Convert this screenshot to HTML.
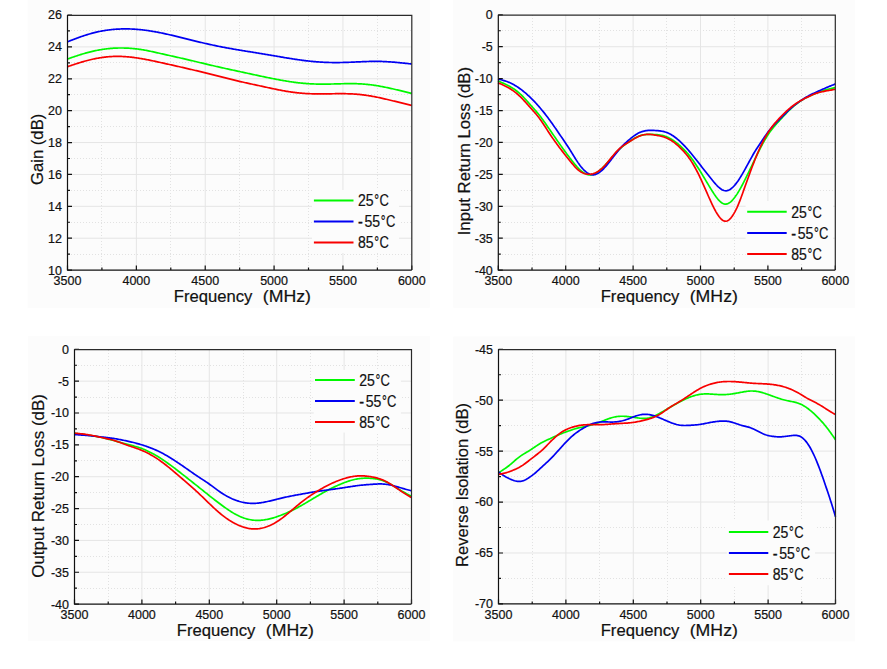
<!DOCTYPE html>
<html><head><meta charset="utf-8"><style>
html,body{margin:0;padding:0;background:#fff;}
body{width:887px;height:669px;overflow:hidden;}
svg{display:block;}
text{font-family:"Liberation Sans",sans-serif;fill:#111;stroke:#111;stroke-width:0.2px;}
.tk{font-size:12.5px;}
.ti{font-size:17px;}
.lg{font-size:16px;}
.deg{font-size:13px;}
</style></head><body>
<svg width="887" height="669" viewBox="0 0 887 669">
<rect x="27.7" y="0" width="402.1" height="307.9" fill="#fcfcfc"/>
<rect x="453.2" y="0" width="401.8" height="307.9" fill="#fcfcfc"/>
<rect x="28" y="336" width="401.8" height="305.0" fill="#fcfcfc"/>
<rect x="453.2" y="336.5" width="401.8" height="304.9" fill="#fcfcfc"/>
<path d="M101.50,16V270.1 M170.50,16V270.1 M239.50,16V270.1 M308.50,16V270.1 M377.50,16V270.1 M68,30.50H411.8 M68,62.50H411.8 M68,94.50H411.8 M68,126.50H411.8 M68,158.50H411.8 M68,190.50H411.8 M68,222.50H411.8 M68,254.50H411.8" stroke="#e2e2e2" stroke-width="1" stroke-dasharray="1 2" fill="none"/>
<path d="M136.36,15.0V270.1 M205.22,15.0V270.1 M274.08,15.0V270.1 M342.94,15.0V270.1 M67.5,46.89H411.8 M67.5,78.78H411.8 M67.5,110.66H411.8 M67.5,142.55H411.8 M67.5,174.44H411.8 M67.5,206.33H411.8 M67.5,238.21H411.8" stroke="#e5e5e5" stroke-width="1" fill="none"/>
<rect x="312" y="190" width="87" height="63" fill="#fcfcfc"/>
<path d="M67.4,59.03 L68.4,58.68 L69.4,58.33 L70.4,57.98 L71.4,57.63 L72.4,57.29 L73.4,56.94 L74.4,56.61 L75.4,56.27 L76.4,55.94 L77.4,55.61 L78.4,55.28 L79.4,54.96 L80.4,54.65 L81.4,54.34 L82.4,54.04 L83.4,53.74 L84.4,53.44 L85.4,53.16 L86.4,52.88 L87.4,52.61 L88.4,52.34 L89.4,52.08 L90.4,51.83 L91.4,51.58 L92.4,51.35 L93.4,51.12 L94.4,50.89 L95.4,50.68 L96.4,50.47 L97.4,50.27 L98.4,50.08 L99.4,49.90 L100.4,49.73 L101.4,49.56 L102.4,49.40 L103.4,49.25 L104.4,49.11 L105.4,48.98 L106.4,48.86 L107.4,48.74 L108.4,48.63 L109.4,48.53 L110.4,48.44 L111.4,48.36 L112.4,48.29 L113.4,48.22 L114.4,48.16 L115.4,48.11 L116.4,48.07 L117.4,48.04 L118.4,48.01 L119.4,48.00 L120.4,47.99 L121.4,47.99 L122.4,47.99 L123.4,48.01 L124.4,48.03 L125.4,48.06 L126.4,48.10 L127.4,48.15 L128.4,48.20 L129.4,48.26 L130.4,48.33 L131.4,48.41 L132.4,48.49 L133.4,48.59 L134.4,48.69 L135.4,48.79 L136.4,48.91 L137.4,49.03 L138.4,49.16 L139.4,49.30 L140.4,49.44 L141.4,49.60 L142.4,49.76 L143.4,49.92 L144.4,50.10 L145.4,50.27 L146.4,50.46 L147.4,50.65 L148.4,50.85 L149.4,51.05 L150.4,51.26 L151.4,51.47 L152.4,51.68 L153.4,51.90 L154.4,52.12 L155.4,52.34 L156.4,52.57 L157.4,52.80 L158.4,53.02 L159.4,53.25 L160.4,53.48 L161.4,53.71 L162.4,53.93 L163.4,54.16 L164.4,54.39 L165.4,54.61 L166.4,54.84 L167.4,55.06 L168.4,55.29 L169.4,55.51 L170.4,55.74 L171.4,55.96 L172.4,56.19 L173.4,56.41 L174.4,56.63 L175.4,56.86 L176.4,57.08 L177.4,57.31 L178.4,57.54 L179.4,57.76 L180.4,57.99 L181.4,58.22 L182.4,58.45 L183.4,58.68 L184.4,58.91 L185.4,59.14 L186.4,59.38 L187.4,59.61 L188.4,59.85 L189.4,60.08 L190.4,60.32 L191.4,60.56 L192.4,60.79 L193.4,61.03 L194.4,61.27 L195.4,61.51 L196.4,61.75 L197.4,61.99 L198.4,62.23 L199.4,62.47 L200.4,62.71 L201.4,62.95 L202.4,63.18 L203.4,63.42 L204.4,63.66 L205.4,63.90 L206.4,64.14 L207.4,64.37 L208.4,64.61 L209.4,64.84 L210.4,65.07 L211.4,65.31 L212.4,65.54 L213.4,65.77 L214.4,66.00 L215.4,66.23 L216.4,66.46 L217.4,66.69 L218.4,66.92 L219.4,67.14 L220.4,67.37 L221.4,67.59 L222.4,67.82 L223.4,68.04 L224.4,68.26 L225.4,68.49 L226.4,68.71 L227.4,68.93 L228.4,69.15 L229.4,69.37 L230.4,69.58 L231.4,69.80 L232.4,70.02 L233.4,70.24 L234.4,70.45 L235.4,70.67 L236.4,70.89 L237.4,71.10 L238.4,71.32 L239.4,71.53 L240.4,71.75 L241.4,71.96 L242.4,72.18 L243.4,72.40 L244.4,72.61 L245.4,72.83 L246.4,73.04 L247.4,73.26 L248.4,73.47 L249.4,73.69 L250.4,73.90 L251.4,74.12 L252.4,74.34 L253.4,74.55 L254.4,74.77 L255.4,74.98 L256.4,75.20 L257.4,75.41 L258.4,75.62 L259.4,75.84 L260.4,76.05 L261.4,76.26 L262.4,76.47 L263.4,76.68 L264.4,76.89 L265.4,77.10 L266.4,77.30 L267.4,77.51 L268.4,77.72 L269.4,77.92 L270.4,78.12 L271.4,78.32 L272.4,78.52 L273.4,78.72 L274.4,78.92 L275.4,79.11 L276.4,79.31 L277.4,79.50 L278.4,79.69 L279.4,79.87 L280.4,80.06 L281.4,80.24 L282.4,80.42 L283.4,80.59 L284.4,80.76 L285.4,80.93 L286.4,81.10 L287.4,81.26 L288.4,81.42 L289.4,81.58 L290.4,81.73 L291.4,81.88 L292.4,82.02 L293.4,82.16 L294.4,82.30 L295.4,82.43 L296.4,82.55 L297.4,82.68 L298.4,82.79 L299.4,82.91 L300.4,83.01 L301.4,83.11 L302.4,83.21 L303.4,83.30 L304.4,83.39 L305.4,83.47 L306.4,83.55 L307.4,83.62 L308.4,83.69 L309.4,83.75 L310.4,83.81 L311.4,83.86 L312.4,83.90 L313.4,83.95 L314.4,83.98 L315.4,84.01 L316.4,84.04 L317.4,84.07 L318.4,84.08 L319.4,84.10 L320.4,84.11 L321.4,84.12 L322.4,84.12 L323.4,84.12 L324.4,84.12 L325.4,84.11 L326.4,84.10 L327.4,84.09 L328.4,84.08 L329.4,84.06 L330.4,84.04 L331.4,84.02 L332.4,84.00 L333.4,83.98 L334.4,83.95 L335.4,83.93 L336.4,83.90 L337.4,83.87 L338.4,83.85 L339.4,83.82 L340.4,83.80 L341.4,83.77 L342.4,83.75 L343.4,83.73 L344.4,83.70 L345.4,83.69 L346.4,83.67 L347.4,83.66 L348.4,83.65 L349.4,83.64 L350.4,83.64 L351.4,83.64 L352.4,83.65 L353.4,83.66 L354.4,83.67 L355.4,83.69 L356.4,83.72 L357.4,83.75 L358.4,83.79 L359.4,83.84 L360.4,83.89 L361.4,83.95 L362.4,84.01 L363.4,84.08 L364.4,84.16 L365.4,84.24 L366.4,84.34 L367.4,84.43 L368.4,84.54 L369.4,84.65 L370.4,84.77 L371.4,84.90 L372.4,85.03 L373.4,85.17 L374.4,85.31 L375.4,85.46 L376.4,85.62 L377.4,85.78 L378.4,85.95 L379.4,86.12 L380.4,86.30 L381.4,86.49 L382.4,86.68 L383.4,86.87 L384.4,87.07 L385.4,87.27 L386.4,87.48 L387.4,87.69 L388.4,87.90 L389.4,88.12 L390.4,88.34 L391.4,88.56 L392.4,88.79 L393.4,89.01 L394.4,89.24 L395.4,89.47 L396.4,89.71 L397.4,89.94 L398.4,90.18 L399.4,90.41 L400.4,90.65 L401.4,90.89 L402.4,91.13 L403.4,91.37 L404.4,91.62 L405.4,91.86 L406.4,92.10 L407.4,92.34 L408.4,92.59 L409.4,92.83 L410.4,93.08 L411.4,93.32 L411.8,93.42" stroke="#00f800" stroke-width="1.7" fill="none" stroke-linejoin="round"/>
<path d="M67.4,41.82 L68.4,41.43 L69.4,41.04 L70.4,40.65 L71.4,40.26 L72.4,39.87 L73.4,39.49 L74.4,39.11 L75.4,38.73 L76.4,38.36 L77.4,37.99 L78.4,37.62 L79.4,37.26 L80.4,36.91 L81.4,36.56 L82.4,36.21 L83.4,35.87 L84.4,35.54 L85.4,35.22 L86.4,34.90 L87.4,34.59 L88.4,34.28 L89.4,33.99 L90.4,33.70 L91.4,33.42 L92.4,33.15 L93.4,32.89 L94.4,32.63 L95.4,32.38 L96.4,32.15 L97.4,31.92 L98.4,31.70 L99.4,31.48 L100.4,31.28 L101.4,31.09 L102.4,30.90 L103.4,30.73 L104.4,30.56 L105.4,30.40 L106.4,30.25 L107.4,30.11 L108.4,29.97 L109.4,29.85 L110.4,29.73 L111.4,29.62 L112.4,29.52 L113.4,29.43 L114.4,29.34 L115.4,29.26 L116.4,29.19 L117.4,29.13 L118.4,29.07 L119.4,29.03 L120.4,28.99 L121.4,28.95 L122.4,28.93 L123.4,28.91 L124.4,28.90 L125.4,28.89 L126.4,28.90 L127.4,28.91 L128.4,28.93 L129.4,28.95 L130.4,28.98 L131.4,29.02 L132.4,29.07 L133.4,29.12 L134.4,29.18 L135.4,29.25 L136.4,29.32 L137.4,29.40 L138.4,29.48 L139.4,29.57 L140.4,29.67 L141.4,29.78 L142.4,29.89 L143.4,30.00 L144.4,30.12 L145.4,30.25 L146.4,30.38 L147.4,30.52 L148.4,30.67 L149.4,30.82 L150.4,30.97 L151.4,31.13 L152.4,31.30 L153.4,31.47 L154.4,31.64 L155.4,31.82 L156.4,32.00 L157.4,32.19 L158.4,32.38 L159.4,32.58 L160.4,32.78 L161.4,32.98 L162.4,33.19 L163.4,33.40 L164.4,33.61 L165.4,33.83 L166.4,34.05 L167.4,34.28 L168.4,34.50 L169.4,34.73 L170.4,34.96 L171.4,35.20 L172.4,35.44 L173.4,35.68 L174.4,35.92 L175.4,36.16 L176.4,36.40 L177.4,36.65 L178.4,36.90 L179.4,37.14 L180.4,37.39 L181.4,37.64 L182.4,37.89 L183.4,38.14 L184.4,38.39 L185.4,38.64 L186.4,38.89 L187.4,39.14 L188.4,39.39 L189.4,39.64 L190.4,39.89 L191.4,40.13 L192.4,40.38 L193.4,40.63 L194.4,40.87 L195.4,41.11 L196.4,41.35 L197.4,41.59 L198.4,41.83 L199.4,42.07 L200.4,42.31 L201.4,42.54 L202.4,42.77 L203.4,43.00 L204.4,43.23 L205.4,43.46 L206.4,43.69 L207.4,43.91 L208.4,44.14 L209.4,44.36 L210.4,44.58 L211.4,44.79 L212.4,45.01 L213.4,45.22 L214.4,45.43 L215.4,45.64 L216.4,45.85 L217.4,46.05 L218.4,46.26 L219.4,46.46 L220.4,46.66 L221.4,46.85 L222.4,47.05 L223.4,47.24 L224.4,47.43 L225.4,47.62 L226.4,47.81 L227.4,47.99 L228.4,48.17 L229.4,48.36 L230.4,48.53 L231.4,48.71 L232.4,48.89 L233.4,49.06 L234.4,49.23 L235.4,49.41 L236.4,49.58 L237.4,49.75 L238.4,49.91 L239.4,50.08 L240.4,50.25 L241.4,50.41 L242.4,50.57 L243.4,50.74 L244.4,50.90 L245.4,51.06 L246.4,51.23 L247.4,51.39 L248.4,51.55 L249.4,51.71 L250.4,51.87 L251.4,52.03 L252.4,52.20 L253.4,52.36 L254.4,52.52 L255.4,52.68 L256.4,52.84 L257.4,53.01 L258.4,53.17 L259.4,53.33 L260.4,53.50 L261.4,53.66 L262.4,53.83 L263.4,53.99 L264.4,54.16 L265.4,54.32 L266.4,54.49 L267.4,54.66 L268.4,54.83 L269.4,55.00 L270.4,55.17 L271.4,55.34 L272.4,55.51 L273.4,55.68 L274.4,55.85 L275.4,56.02 L276.4,56.19 L277.4,56.36 L278.4,56.53 L279.4,56.70 L280.4,56.87 L281.4,57.04 L282.4,57.21 L283.4,57.38 L284.4,57.55 L285.4,57.72 L286.4,57.88 L287.4,58.05 L288.4,58.21 L289.4,58.37 L290.4,58.53 L291.4,58.69 L292.4,58.85 L293.4,59.01 L294.4,59.16 L295.4,59.31 L296.4,59.46 L297.4,59.60 L298.4,59.75 L299.4,59.89 L300.4,60.03 L301.4,60.16 L302.4,60.30 L303.4,60.43 L304.4,60.55 L305.4,60.68 L306.4,60.80 L307.4,60.91 L308.4,61.03 L309.4,61.14 L310.4,61.24 L311.4,61.34 L312.4,61.44 L313.4,61.54 L314.4,61.63 L315.4,61.71 L316.4,61.79 L317.4,61.87 L318.4,61.95 L319.4,62.02 L320.4,62.08 L321.4,62.14 L322.4,62.20 L323.4,62.25 L324.4,62.30 L325.4,62.34 L326.4,62.38 L327.4,62.42 L328.4,62.45 L329.4,62.48 L330.4,62.50 L331.4,62.52 L332.4,62.53 L333.4,62.54 L334.4,62.55 L335.4,62.55 L336.4,62.55 L337.4,62.55 L338.4,62.54 L339.4,62.53 L340.4,62.52 L341.4,62.50 L342.4,62.48 L343.4,62.46 L344.4,62.43 L345.4,62.41 L346.4,62.37 L347.4,62.34 L348.4,62.30 L349.4,62.27 L350.4,62.23 L351.4,62.19 L352.4,62.14 L353.4,62.10 L354.4,62.05 L355.4,62.01 L356.4,61.96 L357.4,61.92 L358.4,61.87 L359.4,61.83 L360.4,61.78 L361.4,61.74 L362.4,61.70 L363.4,61.66 L364.4,61.62 L365.4,61.58 L366.4,61.55 L367.4,61.52 L368.4,61.49 L369.4,61.46 L370.4,61.44 L371.4,61.42 L372.4,61.41 L373.4,61.40 L374.4,61.39 L375.4,61.39 L376.4,61.39 L377.4,61.40 L378.4,61.41 L379.4,61.42 L380.4,61.45 L381.4,61.47 L382.4,61.50 L383.4,61.54 L384.4,61.58 L385.4,61.63 L386.4,61.68 L387.4,61.73 L388.4,61.79 L389.4,61.85 L390.4,61.92 L391.4,61.99 L392.4,62.06 L393.4,62.14 L394.4,62.22 L395.4,62.31 L396.4,62.40 L397.4,62.49 L398.4,62.58 L399.4,62.68 L400.4,62.78 L401.4,62.88 L402.4,62.99 L403.4,63.09 L404.4,63.20 L405.4,63.31 L406.4,63.41 L407.4,63.52 L408.4,63.64 L409.4,63.75 L410.4,63.86 L411.4,63.97 L411.8,64.02" stroke="#0000f2" stroke-width="1.7" fill="none" stroke-linejoin="round"/>
<path d="M67.4,66.70 L68.4,66.37 L69.4,66.03 L70.4,65.70 L71.4,65.36 L72.4,65.03 L73.4,64.70 L74.4,64.37 L75.4,64.05 L76.4,63.72 L77.4,63.40 L78.4,63.09 L79.4,62.78 L80.4,62.47 L81.4,62.17 L82.4,61.87 L83.4,61.58 L84.4,61.30 L85.4,61.02 L86.4,60.75 L87.4,60.48 L88.4,60.22 L89.4,59.97 L90.4,59.72 L91.4,59.49 L92.4,59.26 L93.4,59.03 L94.4,58.82 L95.4,58.61 L96.4,58.42 L97.4,58.23 L98.4,58.05 L99.4,57.88 L100.4,57.72 L101.4,57.56 L102.4,57.42 L103.4,57.29 L104.4,57.16 L105.4,57.05 L106.4,56.94 L107.4,56.84 L108.4,56.75 L109.4,56.68 L110.4,56.61 L111.4,56.55 L112.4,56.50 L113.4,56.46 L114.4,56.42 L115.4,56.40 L116.4,56.39 L117.4,56.38 L118.4,56.39 L119.4,56.40 L120.4,56.42 L121.4,56.46 L122.4,56.50 L123.4,56.54 L124.4,56.60 L125.4,56.66 L126.4,56.74 L127.4,56.82 L128.4,56.91 L129.4,57.00 L130.4,57.10 L131.4,57.21 L132.4,57.33 L133.4,57.45 L134.4,57.58 L135.4,57.72 L136.4,57.86 L137.4,58.01 L138.4,58.16 L139.4,58.32 L140.4,58.48 L141.4,58.65 L142.4,58.82 L143.4,59.00 L144.4,59.18 L145.4,59.37 L146.4,59.56 L147.4,59.75 L148.4,59.95 L149.4,60.14 L150.4,60.35 L151.4,60.55 L152.4,60.76 L153.4,60.97 L154.4,61.18 L155.4,61.40 L156.4,61.61 L157.4,61.83 L158.4,62.05 L159.4,62.27 L160.4,62.49 L161.4,62.71 L162.4,62.93 L163.4,63.15 L164.4,63.37 L165.4,63.60 L166.4,63.82 L167.4,64.05 L168.4,64.27 L169.4,64.50 L170.4,64.72 L171.4,64.95 L172.4,65.18 L173.4,65.40 L174.4,65.63 L175.4,65.86 L176.4,66.08 L177.4,66.31 L178.4,66.54 L179.4,66.77 L180.4,67.00 L181.4,67.22 L182.4,67.45 L183.4,67.68 L184.4,67.91 L185.4,68.14 L186.4,68.37 L187.4,68.60 L188.4,68.83 L189.4,69.06 L190.4,69.30 L191.4,69.53 L192.4,69.76 L193.4,70.00 L194.4,70.23 L195.4,70.47 L196.4,70.70 L197.4,70.94 L198.4,71.18 L199.4,71.41 L200.4,71.65 L201.4,71.89 L202.4,72.14 L203.4,72.38 L204.4,72.62 L205.4,72.87 L206.4,73.11 L207.4,73.36 L208.4,73.61 L209.4,73.86 L210.4,74.11 L211.4,74.36 L212.4,74.61 L213.4,74.86 L214.4,75.12 L215.4,75.37 L216.4,75.63 L217.4,75.88 L218.4,76.14 L219.4,76.39 L220.4,76.65 L221.4,76.91 L222.4,77.16 L223.4,77.42 L224.4,77.67 L225.4,77.93 L226.4,78.18 L227.4,78.44 L228.4,78.69 L229.4,78.94 L230.4,79.19 L231.4,79.43 L232.4,79.68 L233.4,79.92 L234.4,80.16 L235.4,80.40 L236.4,80.64 L237.4,80.88 L238.4,81.11 L239.4,81.35 L240.4,81.58 L241.4,81.81 L242.4,82.04 L243.4,82.26 L244.4,82.49 L245.4,82.71 L246.4,82.93 L247.4,83.15 L248.4,83.37 L249.4,83.59 L250.4,83.81 L251.4,84.02 L252.4,84.24 L253.4,84.46 L254.4,84.67 L255.4,84.89 L256.4,85.11 L257.4,85.32 L258.4,85.54 L259.4,85.76 L260.4,85.98 L261.4,86.19 L262.4,86.41 L263.4,86.63 L264.4,86.85 L265.4,87.07 L266.4,87.28 L267.4,87.50 L268.4,87.72 L269.4,87.93 L270.4,88.15 L271.4,88.36 L272.4,88.58 L273.4,88.79 L274.4,89.00 L275.4,89.20 L276.4,89.41 L277.4,89.61 L278.4,89.81 L279.4,90.01 L280.4,90.20 L281.4,90.40 L282.4,90.58 L283.4,90.77 L284.4,90.94 L285.4,91.12 L286.4,91.29 L287.4,91.45 L288.4,91.62 L289.4,91.77 L290.4,91.92 L291.4,92.06 L292.4,92.20 L293.4,92.33 L294.4,92.46 L295.4,92.58 L296.4,92.70 L297.4,92.81 L298.4,92.91 L299.4,93.01 L300.4,93.10 L301.4,93.19 L302.4,93.27 L303.4,93.35 L304.4,93.42 L305.4,93.48 L306.4,93.54 L307.4,93.60 L308.4,93.65 L309.4,93.69 L310.4,93.73 L311.4,93.76 L312.4,93.79 L313.4,93.82 L314.4,93.84 L315.4,93.86 L316.4,93.87 L317.4,93.88 L318.4,93.89 L319.4,93.89 L320.4,93.89 L321.4,93.89 L322.4,93.88 L323.4,93.88 L324.4,93.87 L325.4,93.86 L326.4,93.85 L327.4,93.84 L328.4,93.82 L329.4,93.81 L330.4,93.79 L331.4,93.78 L332.4,93.76 L333.4,93.75 L334.4,93.74 L335.4,93.72 L336.4,93.71 L337.4,93.70 L338.4,93.69 L339.4,93.69 L340.4,93.68 L341.4,93.68 L342.4,93.69 L343.4,93.69 L344.4,93.70 L345.4,93.71 L346.4,93.73 L347.4,93.75 L348.4,93.78 L349.4,93.81 L350.4,93.85 L351.4,93.89 L352.4,93.94 L353.4,94.00 L354.4,94.06 L355.4,94.13 L356.4,94.20 L357.4,94.28 L358.4,94.37 L359.4,94.46 L360.4,94.56 L361.4,94.67 L362.4,94.79 L363.4,94.91 L364.4,95.04 L365.4,95.18 L366.4,95.32 L367.4,95.47 L368.4,95.62 L369.4,95.79 L370.4,95.95 L371.4,96.13 L372.4,96.31 L373.4,96.49 L374.4,96.68 L375.4,96.88 L376.4,97.08 L377.4,97.28 L378.4,97.49 L379.4,97.70 L380.4,97.92 L381.4,98.14 L382.4,98.36 L383.4,98.59 L384.4,98.82 L385.4,99.05 L386.4,99.28 L387.4,99.52 L388.4,99.75 L389.4,99.99 L390.4,100.23 L391.4,100.47 L392.4,100.72 L393.4,100.96 L394.4,101.20 L395.4,101.44 L396.4,101.69 L397.4,101.93 L398.4,102.18 L399.4,102.42 L400.4,102.67 L401.4,102.91 L402.4,103.16 L403.4,103.41 L404.4,103.65 L405.4,103.90 L406.4,104.15 L407.4,104.39 L408.4,104.64 L409.4,104.89 L410.4,105.13 L411.4,105.38 L411.8,105.48" stroke="#f80000" stroke-width="1.7" fill="none" stroke-linejoin="round"/>
<path d="M67.50,270.1V265.6 M101.93,270.1V267.6 M136.36,270.1V265.6 M170.79,270.1V267.6 M205.22,270.1V265.6 M239.65,270.1V267.6 M274.08,270.1V265.6 M308.51,270.1V267.6 M342.94,270.1V265.6 M377.37,270.1V267.6 M411.80,270.1V265.6 M67.5,15.00H72.0 M67.5,30.94H70.0 M67.5,46.89H72.0 M67.5,62.83H70.0 M67.5,78.78H72.0 M67.5,94.72H70.0 M67.5,110.66H72.0 M67.5,126.61H70.0 M67.5,142.55H72.0 M67.5,158.49H70.0 M67.5,174.44H72.0 M67.5,190.38H70.0 M67.5,206.33H72.0 M67.5,222.27H70.0 M67.5,238.21H72.0 M67.5,254.16H70.0 M67.5,270.10H72.0" stroke="#111" stroke-width="1.2" fill="none"/>
<path d="M67.5,15.30H411.8V270.1" stroke="#2a2a2a" stroke-width="1.2" fill="none"/>
<path d="M67.5,15.0V270.1H411.8" stroke="#111" stroke-width="1.2" fill="none"/>
<text x="67.50" y="285.30" class="tk" text-anchor="middle">3500</text>
<text x="136.36" y="285.30" class="tk" text-anchor="middle">4000</text>
<text x="205.22" y="285.30" class="tk" text-anchor="middle">4500</text>
<text x="274.08" y="285.30" class="tk" text-anchor="middle">5000</text>
<text x="342.94" y="285.30" class="tk" text-anchor="middle">5500</text>
<text x="411.80" y="285.30" class="tk" text-anchor="middle">6000</text>
<text x="62.00" y="19.40" class="tk" text-anchor="end">26</text>
<text x="62.00" y="51.29" class="tk" text-anchor="end">24</text>
<text x="62.00" y="83.18" class="tk" text-anchor="end">22</text>
<text x="62.00" y="115.06" class="tk" text-anchor="end">20</text>
<text x="62.00" y="146.95" class="tk" text-anchor="end">18</text>
<text x="62.00" y="178.84" class="tk" text-anchor="end">16</text>
<text x="62.00" y="210.73" class="tk" text-anchor="end">14</text>
<text x="62.00" y="242.61" class="tk" text-anchor="end">12</text>
<text x="62.00" y="274.50" class="tk" text-anchor="end">10</text>
<text x="173.80" y="301.8" class="ti" textLength="78.6" lengthAdjust="spacingAndGlyphs">Frequency</text>
<text x="262.80" y="301.8" class="ti" textLength="48.2" lengthAdjust="spacingAndGlyphs">(MHz)</text>
<text x="0" y="0" class="ti" textLength="71.30" lengthAdjust="spacingAndGlyphs" transform="translate(43.0,185.00) rotate(-90)">Gain (dB)</text>
<path d="M313.9,200.4H353.5" stroke="#00f800" stroke-width="2"/>
<text x="358.00" y="206.20" class="lg" textLength="15.6" lengthAdjust="spacingAndGlyphs">25</text>
<text x="374.30" y="206.20" class="lg" textLength="4.8" lengthAdjust="spacingAndGlyphs">°</text>
<text x="379.40" y="206.20" class="lg" textLength="9.4" lengthAdjust="spacingAndGlyphs">C</text>
<path d="M313.9,221.5H353.5" stroke="#0000f2" stroke-width="2"/>
<text x="358.00" y="227.30" class="lg" textLength="4.8" lengthAdjust="spacingAndGlyphs" style="stroke:#111;stroke-width:0.35px">-</text>
<text x="364.50" y="227.30" class="lg" textLength="15.6" lengthAdjust="spacingAndGlyphs">55</text>
<text x="380.80" y="227.30" class="lg" textLength="4.8" lengthAdjust="spacingAndGlyphs">°</text>
<text x="385.90" y="227.30" class="lg" textLength="9.4" lengthAdjust="spacingAndGlyphs">C</text>
<path d="M313.9,242.6H353.5" stroke="#f80000" stroke-width="2"/>
<text x="358.00" y="248.40" class="lg" textLength="15.6" lengthAdjust="spacingAndGlyphs">85</text>
<text x="374.30" y="248.40" class="lg" textLength="4.8" lengthAdjust="spacingAndGlyphs">°</text>
<text x="379.40" y="248.40" class="lg" textLength="9.4" lengthAdjust="spacingAndGlyphs">C</text>
<path d="M532.50,15V270.1 M599.50,15V270.1 M666.50,15V270.1 M734.50,15V270.1 M801.50,15V270.1 M499,30.50H835.3 M499,62.50H835.3 M499,94.50H835.3 M499,126.50H835.3 M499,158.50H835.3 M499,190.50H835.3 M499,222.50H835.3 M499,254.50H835.3" stroke="#e2e2e2" stroke-width="1" stroke-dasharray="1 2" fill="none"/>
<path d="M565.70,14.8V270.1 M633.10,14.8V270.1 M700.50,14.8V270.1 M767.90,14.8V270.1 M498.3,46.71H835.3 M498.3,78.62H835.3 M498.3,110.54H835.3 M498.3,142.45H835.3 M498.3,174.36H835.3 M498.3,206.28H835.3 M498.3,238.19H835.3" stroke="#e5e5e5" stroke-width="1" fill="none"/>
<rect x="745.6" y="201" width="87.39999999999998" height="63" fill="#fcfcfc"/>
<path d="M498.0,80.98 L499.0,81.40 L500.0,81.82 L501.0,82.25 L502.0,82.68 L503.0,83.12 L504.0,83.56 L505.0,84.02 L506.0,84.50 L507.0,84.99 L508.0,85.50 L509.0,86.03 L510.0,86.58 L511.0,87.15 L512.0,87.75 L513.0,88.38 L514.0,89.04 L515.0,89.73 L516.0,90.46 L517.0,91.23 L518.0,92.03 L519.0,92.88 L520.0,93.77 L521.0,94.70 L522.0,95.68 L523.0,96.69 L524.0,97.74 L525.0,98.81 L526.0,99.90 L527.0,101.01 L528.0,102.14 L529.0,103.27 L530.0,104.40 L531.0,105.54 L532.0,106.67 L533.0,107.78 L534.0,108.90 L535.0,110.03 L536.0,111.16 L537.0,112.33 L538.0,113.52 L539.0,114.76 L540.0,116.03 L541.0,117.34 L542.0,118.68 L543.0,120.05 L544.0,121.44 L545.0,122.85 L546.0,124.27 L547.0,125.71 L548.0,127.16 L549.0,128.61 L550.0,130.07 L551.0,131.53 L552.0,132.98 L553.0,134.43 L554.0,135.88 L555.0,137.32 L556.0,138.76 L557.0,140.20 L558.0,141.62 L559.0,143.05 L560.0,144.46 L561.0,145.87 L562.0,147.28 L563.0,148.67 L564.0,150.05 L565.0,151.43 L566.0,152.80 L567.0,154.15 L568.0,155.49 L569.0,156.83 L570.0,158.15 L571.0,159.45 L572.0,160.74 L573.0,162.01 L574.0,163.24 L575.0,164.45 L576.0,165.61 L577.0,166.73 L578.0,167.80 L579.0,168.82 L580.0,169.78 L581.0,170.67 L582.0,171.49 L583.0,172.24 L584.0,172.90 L585.0,173.48 L586.0,173.96 L587.0,174.35 L588.0,174.64 L589.0,174.81 L590.0,174.88 L591.0,174.82 L592.0,174.66 L593.0,174.38 L594.0,174.01 L595.0,173.55 L596.0,173.01 L597.0,172.38 L598.0,171.69 L599.0,170.93 L600.0,170.12 L601.0,169.25 L602.0,168.34 L603.0,167.38 L604.0,166.38 L605.0,165.35 L606.0,164.28 L607.0,163.18 L608.0,162.06 L609.0,160.92 L610.0,159.75 L611.0,158.57 L612.0,157.39 L613.0,156.21 L614.0,155.03 L615.0,153.88 L616.0,152.76 L617.0,151.67 L618.0,150.62 L619.0,149.63 L620.0,148.69 L621.0,147.79 L622.0,146.94 L623.0,146.12 L624.0,145.33 L625.0,144.58 L626.0,143.85 L627.0,143.14 L628.0,142.45 L629.0,141.77 L630.0,141.11 L631.0,140.45 L632.0,139.80 L633.0,139.17 L634.0,138.56 L635.0,137.98 L636.0,137.43 L637.0,136.93 L638.0,136.46 L639.0,136.05 L640.0,135.69 L641.0,135.38 L642.0,135.12 L643.0,134.90 L644.0,134.73 L645.0,134.59 L646.0,134.49 L647.0,134.42 L648.0,134.38 L649.0,134.36 L650.0,134.36 L651.0,134.37 L652.0,134.40 L653.0,134.44 L654.0,134.50 L655.0,134.56 L656.0,134.63 L657.0,134.71 L658.0,134.81 L659.0,134.92 L660.0,135.06 L661.0,135.23 L662.0,135.42 L663.0,135.65 L664.0,135.91 L665.0,136.21 L666.0,136.56 L667.0,136.95 L668.0,137.39 L669.0,137.88 L670.0,138.41 L671.0,138.98 L672.0,139.59 L673.0,140.24 L674.0,140.93 L675.0,141.66 L676.0,142.42 L677.0,143.21 L678.0,144.03 L679.0,144.88 L680.0,145.76 L681.0,146.67 L682.0,147.60 L683.0,148.57 L684.0,149.56 L685.0,150.59 L686.0,151.66 L687.0,152.77 L688.0,153.92 L689.0,155.11 L690.0,156.35 L691.0,157.63 L692.0,158.96 L693.0,160.33 L694.0,161.74 L695.0,163.19 L696.0,164.68 L697.0,166.19 L698.0,167.74 L699.0,169.31 L700.0,170.91 L701.0,172.53 L702.0,174.17 L703.0,175.83 L704.0,177.49 L705.0,179.16 L706.0,180.83 L707.0,182.50 L708.0,184.17 L709.0,185.83 L710.0,187.48 L711.0,189.10 L712.0,190.71 L713.0,192.30 L714.0,193.84 L715.0,195.33 L716.0,196.75 L717.0,198.08 L718.0,199.31 L719.0,200.43 L720.0,201.42 L721.0,202.27 L722.0,202.97 L723.0,203.51 L724.0,203.89 L725.0,204.10 L726.0,204.12 L727.0,203.96 L728.0,203.61 L729.0,203.09 L730.0,202.41 L731.0,201.59 L732.0,200.62 L733.0,199.53 L734.0,198.33 L735.0,197.01 L736.0,195.60 L737.0,194.10 L738.0,192.52 L739.0,190.86 L740.0,189.13 L741.0,187.35 L742.0,185.51 L743.0,183.62 L744.0,181.69 L745.0,179.72 L746.0,177.71 L747.0,175.68 L748.0,173.62 L749.0,171.55 L750.0,169.45 L751.0,167.35 L752.0,165.25 L753.0,163.14 L754.0,161.04 L755.0,158.95 L756.0,156.88 L757.0,154.82 L758.0,152.79 L759.0,150.79 L760.0,148.82 L761.0,146.89 L762.0,145.01 L763.0,143.16 L764.0,141.37 L765.0,139.63 L766.0,137.95 L767.0,136.32 L768.0,134.75 L769.0,133.24 L770.0,131.80 L771.0,130.43 L772.0,129.12 L773.0,127.87 L774.0,126.66 L775.0,125.49 L776.0,124.36 L777.0,123.25 L778.0,122.15 L779.0,121.07 L780.0,119.99 L781.0,118.91 L782.0,117.83 L783.0,116.75 L784.0,115.68 L785.0,114.62 L786.0,113.57 L787.0,112.53 L788.0,111.51 L789.0,110.52 L790.0,109.55 L791.0,108.61 L792.0,107.70 L793.0,106.81 L794.0,105.95 L795.0,105.12 L796.0,104.32 L797.0,103.54 L798.0,102.79 L799.0,102.07 L800.0,101.37 L801.0,100.71 L802.0,100.07 L803.0,99.46 L804.0,98.87 L805.0,98.31 L806.0,97.77 L807.0,97.25 L808.0,96.75 L809.0,96.27 L810.0,95.81 L811.0,95.37 L812.0,94.93 L813.0,94.51 L814.0,94.10 L815.0,93.70 L816.0,93.30 L817.0,92.91 L818.0,92.52 L819.0,92.14 L820.0,91.77 L821.0,91.40 L822.0,91.06 L823.0,90.72 L824.0,90.40 L825.0,90.10 L826.0,89.82 L827.0,89.55 L828.0,89.30 L829.0,89.05 L830.0,88.82 L831.0,88.59 L832.0,88.38 L833.0,88.16 L834.0,87.95 L835.0,87.75 L835.3,87.68" stroke="#00f800" stroke-width="1.7" fill="none" stroke-linejoin="round"/>
<path d="M498.0,79.07 L499.0,79.30 L500.0,79.54 L501.0,79.79 L502.0,80.04 L503.0,80.31 L504.0,80.59 L505.0,80.89 L506.0,81.21 L507.0,81.56 L508.0,81.94 L509.0,82.34 L510.0,82.78 L511.0,83.24 L512.0,83.74 L513.0,84.26 L514.0,84.82 L515.0,85.40 L516.0,86.00 L517.0,86.64 L518.0,87.30 L519.0,87.99 L520.0,88.70 L521.0,89.43 L522.0,90.19 L523.0,90.98 L524.0,91.79 L525.0,92.62 L526.0,93.48 L527.0,94.36 L528.0,95.26 L529.0,96.19 L530.0,97.13 L531.0,98.10 L532.0,99.10 L533.0,100.11 L534.0,101.15 L535.0,102.20 L536.0,103.28 L537.0,104.38 L538.0,105.50 L539.0,106.64 L540.0,107.79 L541.0,108.97 L542.0,110.17 L543.0,111.40 L544.0,112.64 L545.0,113.90 L546.0,115.18 L547.0,116.49 L548.0,117.81 L549.0,119.16 L550.0,120.53 L551.0,121.92 L552.0,123.33 L553.0,124.75 L554.0,126.19 L555.0,127.63 L556.0,129.09 L557.0,130.55 L558.0,132.01 L559.0,133.47 L560.0,134.93 L561.0,136.39 L562.0,137.84 L563.0,139.30 L564.0,140.76 L565.0,142.23 L566.0,143.71 L567.0,145.21 L568.0,146.74 L569.0,148.29 L570.0,149.86 L571.0,151.47 L572.0,153.10 L573.0,154.74 L574.0,156.37 L575.0,157.99 L576.0,159.58 L577.0,161.12 L578.0,162.62 L579.0,164.04 L580.0,165.40 L581.0,166.68 L582.0,167.89 L583.0,169.01 L584.0,170.05 L585.0,170.99 L586.0,171.85 L587.0,172.60 L588.0,173.26 L589.0,173.80 L590.0,174.24 L591.0,174.57 L592.0,174.77 L593.0,174.84 L594.0,174.78 L595.0,174.58 L596.0,174.27 L597.0,173.84 L598.0,173.30 L599.0,172.67 L600.0,171.95 L601.0,171.14 L602.0,170.26 L603.0,169.31 L604.0,168.29 L605.0,167.21 L606.0,166.09 L607.0,164.91 L608.0,163.70 L609.0,162.45 L610.0,161.18 L611.0,159.89 L612.0,158.58 L613.0,157.26 L614.0,155.95 L615.0,154.65 L616.0,153.37 L617.0,152.12 L618.0,150.90 L619.0,149.73 L620.0,148.59 L621.0,147.49 L622.0,146.43 L623.0,145.41 L624.0,144.42 L625.0,143.46 L626.0,142.52 L627.0,141.62 L628.0,140.73 L629.0,139.87 L630.0,139.03 L631.0,138.21 L632.0,137.41 L633.0,136.64 L634.0,135.90 L635.0,135.19 L636.0,134.53 L637.0,133.91 L638.0,133.34 L639.0,132.83 L640.0,132.38 L641.0,131.98 L642.0,131.63 L643.0,131.33 L644.0,131.08 L645.0,130.87 L646.0,130.69 L647.0,130.56 L648.0,130.46 L649.0,130.39 L650.0,130.35 L651.0,130.34 L652.0,130.35 L653.0,130.39 L654.0,130.44 L655.0,130.50 L656.0,130.57 L657.0,130.64 L658.0,130.72 L659.0,130.82 L660.0,130.94 L661.0,131.08 L662.0,131.25 L663.0,131.45 L664.0,131.68 L665.0,131.96 L666.0,132.28 L667.0,132.64 L668.0,133.05 L669.0,133.52 L670.0,134.02 L671.0,134.58 L672.0,135.17 L673.0,135.81 L674.0,136.50 L675.0,137.22 L676.0,137.98 L677.0,138.78 L678.0,139.62 L679.0,140.49 L680.0,141.40 L681.0,142.35 L682.0,143.32 L683.0,144.33 L684.0,145.36 L685.0,146.43 L686.0,147.52 L687.0,148.63 L688.0,149.77 L689.0,150.92 L690.0,152.10 L691.0,153.30 L692.0,154.51 L693.0,155.73 L694.0,156.97 L695.0,158.23 L696.0,159.49 L697.0,160.76 L698.0,162.03 L699.0,163.31 L700.0,164.59 L701.0,165.88 L702.0,167.17 L703.0,168.45 L704.0,169.73 L705.0,171.01 L706.0,172.29 L707.0,173.56 L708.0,174.82 L709.0,176.08 L710.0,177.33 L711.0,178.56 L712.0,179.79 L713.0,181.00 L714.0,182.19 L715.0,183.35 L716.0,184.47 L717.0,185.53 L718.0,186.53 L719.0,187.45 L720.0,188.29 L721.0,189.03 L722.0,189.66 L723.0,190.16 L724.0,190.53 L725.0,190.74 L726.0,190.80 L727.0,190.69 L728.0,190.42 L729.0,190.00 L730.0,189.45 L731.0,188.76 L732.0,187.95 L733.0,187.02 L734.0,185.99 L735.0,184.85 L736.0,183.63 L737.0,182.31 L738.0,180.91 L739.0,179.43 L740.0,177.88 L741.0,176.27 L742.0,174.60 L743.0,172.88 L744.0,171.12 L745.0,169.33 L746.0,167.51 L747.0,165.67 L748.0,163.83 L749.0,161.99 L750.0,160.16 L751.0,158.34 L752.0,156.54 L753.0,154.78 L754.0,153.05 L755.0,151.38 L756.0,149.76 L757.0,148.19 L758.0,146.67 L759.0,145.17 L760.0,143.68 L761.0,142.19 L762.0,140.70 L763.0,139.22 L764.0,137.75 L765.0,136.30 L766.0,134.87 L767.0,133.47 L768.0,132.11 L769.0,130.79 L770.0,129.52 L771.0,128.30 L772.0,127.14 L773.0,126.01 L774.0,124.92 L775.0,123.86 L776.0,122.83 L777.0,121.81 L778.0,120.80 L779.0,119.80 L780.0,118.80 L781.0,117.80 L782.0,116.79 L783.0,115.79 L784.0,114.78 L785.0,113.79 L786.0,112.80 L787.0,111.83 L788.0,110.88 L789.0,109.95 L790.0,109.04 L791.0,108.16 L792.0,107.30 L793.0,106.46 L794.0,105.65 L795.0,104.85 L796.0,104.08 L797.0,103.32 L798.0,102.59 L799.0,101.87 L800.0,101.17 L801.0,100.49 L802.0,99.82 L803.0,99.18 L804.0,98.54 L805.0,97.93 L806.0,97.33 L807.0,96.75 L808.0,96.19 L809.0,95.65 L810.0,95.12 L811.0,94.61 L812.0,94.11 L813.0,93.63 L814.0,93.15 L815.0,92.69 L816.0,92.22 L817.0,91.77 L818.0,91.31 L819.0,90.86 L820.0,90.41 L821.0,89.97 L822.0,89.53 L823.0,89.09 L824.0,88.66 L825.0,88.24 L826.0,87.81 L827.0,87.39 L828.0,86.98 L829.0,86.56 L830.0,86.15 L831.0,85.74 L832.0,85.33 L833.0,84.93 L834.0,84.52 L835.0,84.12 L835.3,84.00" stroke="#0000f2" stroke-width="1.7" fill="none" stroke-linejoin="round"/>
<path d="M498.0,82.77 L499.0,83.20 L500.0,83.64 L501.0,84.08 L502.0,84.52 L503.0,84.98 L504.0,85.45 L505.0,85.94 L506.0,86.44 L507.0,86.97 L508.0,87.51 L509.0,88.09 L510.0,88.69 L511.0,89.32 L512.0,89.98 L513.0,90.67 L514.0,91.39 L515.0,92.15 L516.0,92.94 L517.0,93.76 L518.0,94.62 L519.0,95.52 L520.0,96.45 L521.0,97.43 L522.0,98.44 L523.0,99.48 L524.0,100.55 L525.0,101.64 L526.0,102.74 L527.0,103.87 L528.0,105.00 L529.0,106.13 L530.0,107.27 L531.0,108.41 L532.0,109.53 L533.0,110.65 L534.0,111.77 L535.0,112.90 L536.0,114.06 L537.0,115.25 L538.0,116.50 L539.0,117.80 L540.0,119.16 L541.0,120.57 L542.0,122.02 L543.0,123.50 L544.0,125.01 L545.0,126.54 L546.0,128.08 L547.0,129.62 L548.0,131.17 L549.0,132.70 L550.0,134.22 L551.0,135.71 L552.0,137.18 L553.0,138.63 L554.0,140.06 L555.0,141.47 L556.0,142.86 L557.0,144.23 L558.0,145.58 L559.0,146.92 L560.0,148.25 L561.0,149.56 L562.0,150.86 L563.0,152.14 L564.0,153.42 L565.0,154.69 L566.0,155.95 L567.0,157.20 L568.0,158.44 L569.0,159.68 L570.0,160.92 L571.0,162.15 L572.0,163.37 L573.0,164.56 L574.0,165.72 L575.0,166.83 L576.0,167.88 L577.0,168.87 L578.0,169.77 L579.0,170.59 L580.0,171.32 L581.0,171.96 L582.0,172.52 L583.0,173.00 L584.0,173.40 L585.0,173.72 L586.0,173.97 L587.0,174.14 L588.0,174.24 L589.0,174.27 L590.0,174.24 L591.0,174.13 L592.0,173.96 L593.0,173.73 L594.0,173.42 L595.0,173.04 L596.0,172.59 L597.0,172.07 L598.0,171.47 L599.0,170.79 L600.0,170.03 L601.0,169.20 L602.0,168.30 L603.0,167.33 L604.0,166.31 L605.0,165.24 L606.0,164.12 L607.0,162.97 L608.0,161.79 L609.0,160.59 L610.0,159.36 L611.0,158.13 L612.0,156.90 L613.0,155.68 L614.0,154.48 L615.0,153.30 L616.0,152.17 L617.0,151.09 L618.0,150.07 L619.0,149.11 L620.0,148.22 L621.0,147.39 L622.0,146.61 L623.0,145.87 L624.0,145.17 L625.0,144.49 L626.0,143.85 L627.0,143.22 L628.0,142.60 L629.0,141.98 L630.0,141.36 L631.0,140.74 L632.0,140.11 L633.0,139.49 L634.0,138.88 L635.0,138.29 L636.0,137.72 L637.0,137.19 L638.0,136.69 L639.0,136.24 L640.0,135.84 L641.0,135.50 L642.0,135.20 L643.0,134.95 L644.0,134.74 L645.0,134.58 L646.0,134.47 L647.0,134.39 L648.0,134.36 L649.0,134.36 L650.0,134.41 L651.0,134.49 L652.0,134.60 L653.0,134.74 L654.0,134.90 L655.0,135.07 L656.0,135.23 L657.0,135.40 L658.0,135.58 L659.0,135.77 L660.0,135.97 L661.0,136.19 L662.0,136.44 L663.0,136.71 L664.0,137.02 L665.0,137.36 L666.0,137.74 L667.0,138.17 L668.0,138.65 L669.0,139.17 L670.0,139.73 L671.0,140.34 L672.0,140.99 L673.0,141.68 L674.0,142.41 L675.0,143.18 L676.0,143.98 L677.0,144.82 L678.0,145.70 L679.0,146.61 L680.0,147.55 L681.0,148.53 L682.0,149.54 L683.0,150.59 L684.0,151.68 L685.0,152.82 L686.0,154.01 L687.0,155.25 L688.0,156.55 L689.0,157.92 L690.0,159.35 L691.0,160.84 L692.0,162.41 L693.0,164.04 L694.0,165.74 L695.0,167.51 L696.0,169.34 L697.0,171.24 L698.0,173.19 L699.0,175.21 L700.0,177.29 L701.0,179.43 L702.0,181.62 L703.0,183.85 L704.0,186.11 L705.0,188.38 L706.0,190.67 L707.0,192.96 L708.0,195.24 L709.0,197.49 L710.0,199.72 L711.0,201.90 L712.0,204.04 L713.0,206.11 L714.0,208.11 L715.0,210.02 L716.0,211.83 L717.0,213.52 L718.0,215.08 L719.0,216.50 L720.0,217.76 L721.0,218.85 L722.0,219.75 L723.0,220.45 L724.0,220.94 L725.0,221.21 L726.0,221.23 L727.0,221.01 L728.0,220.54 L729.0,219.85 L730.0,218.95 L731.0,217.84 L732.0,216.54 L733.0,215.07 L734.0,213.43 L735.0,211.62 L736.0,209.67 L737.0,207.56 L738.0,205.31 L739.0,202.92 L740.0,200.39 L741.0,197.75 L742.0,195.01 L743.0,192.22 L744.0,189.40 L745.0,186.59 L746.0,183.78 L747.0,180.99 L748.0,178.20 L749.0,175.44 L750.0,172.70 L751.0,170.00 L752.0,167.32 L753.0,164.69 L754.0,162.10 L755.0,159.56 L756.0,157.07 L757.0,154.64 L758.0,152.28 L759.0,149.98 L760.0,147.76 L761.0,145.61 L762.0,143.54 L763.0,141.55 L764.0,139.63 L765.0,137.79 L766.0,136.01 L767.0,134.32 L768.0,132.69 L769.0,131.13 L770.0,129.65 L771.0,128.23 L772.0,126.88 L773.0,125.58 L774.0,124.33 L775.0,123.13 L776.0,121.97 L777.0,120.85 L778.0,119.75 L779.0,118.68 L780.0,117.62 L781.0,116.57 L782.0,115.54 L783.0,114.52 L784.0,113.52 L785.0,112.55 L786.0,111.59 L787.0,110.67 L788.0,109.77 L789.0,108.90 L790.0,108.05 L791.0,107.24 L792.0,106.45 L793.0,105.70 L794.0,104.96 L795.0,104.25 L796.0,103.57 L797.0,102.91 L798.0,102.27 L799.0,101.65 L800.0,101.06 L801.0,100.48 L802.0,99.93 L803.0,99.39 L804.0,98.87 L805.0,98.36 L806.0,97.86 L807.0,97.37 L808.0,96.88 L809.0,96.40 L810.0,95.93 L811.0,95.46 L812.0,95.01 L813.0,94.58 L814.0,94.16 L815.0,93.77 L816.0,93.41 L817.0,93.07 L818.0,92.77 L819.0,92.49 L820.0,92.23 L821.0,91.99 L822.0,91.77 L823.0,91.55 L824.0,91.35 L825.0,91.15 L826.0,90.96 L827.0,90.77 L828.0,90.58 L829.0,90.40 L830.0,90.22 L831.0,90.04 L832.0,89.87 L833.0,89.69 L834.0,89.52 L835.0,89.35 L835.3,89.30" stroke="#f80000" stroke-width="1.7" fill="none" stroke-linejoin="round"/>
<path d="M498.30,270.1V265.6 M532.00,270.1V267.6 M565.70,270.1V265.6 M599.40,270.1V267.6 M633.10,270.1V265.6 M666.80,270.1V267.6 M700.50,270.1V265.6 M734.20,270.1V267.6 M767.90,270.1V265.6 M801.60,270.1V267.6 M835.30,270.1V265.6 M498.3,14.80H502.8 M498.3,30.76H500.8 M498.3,46.71H502.8 M498.3,62.67H500.8 M498.3,78.62H502.8 M498.3,94.58H500.8 M498.3,110.54H502.8 M498.3,126.49H500.8 M498.3,142.45H502.8 M498.3,158.41H500.8 M498.3,174.36H502.8 M498.3,190.32H500.8 M498.3,206.28H502.8 M498.3,222.23H500.8 M498.3,238.19H502.8 M498.3,254.14H500.8 M498.3,270.10H502.8" stroke="#111" stroke-width="1.2" fill="none"/>
<path d="M498.3,15.10H835.3V270.1" stroke="#2a2a2a" stroke-width="1.2" fill="none"/>
<path d="M498.3,14.8V270.1H835.3" stroke="#111" stroke-width="1.2" fill="none"/>
<text x="498.30" y="285.30" class="tk" text-anchor="middle">3500</text>
<text x="565.70" y="285.30" class="tk" text-anchor="middle">4000</text>
<text x="633.10" y="285.30" class="tk" text-anchor="middle">4500</text>
<text x="700.50" y="285.30" class="tk" text-anchor="middle">5000</text>
<text x="767.90" y="285.30" class="tk" text-anchor="middle">5500</text>
<text x="835.30" y="285.30" class="tk" text-anchor="middle">6000</text>
<text x="492.80" y="19.20" class="tk" text-anchor="end">0</text>
<text x="492.80" y="51.11" class="tk" text-anchor="end">-5</text>
<text x="492.80" y="83.03" class="tk" text-anchor="end">-10</text>
<text x="492.80" y="114.94" class="tk" text-anchor="end">-15</text>
<text x="492.80" y="146.85" class="tk" text-anchor="end">-20</text>
<text x="492.80" y="178.76" class="tk" text-anchor="end">-25</text>
<text x="492.80" y="210.68" class="tk" text-anchor="end">-30</text>
<text x="492.80" y="242.59" class="tk" text-anchor="end">-35</text>
<text x="492.80" y="274.50" class="tk" text-anchor="end">-40</text>
<text x="600.70" y="301.8" class="ti" textLength="78.6" lengthAdjust="spacingAndGlyphs">Frequency</text>
<text x="689.70" y="301.8" class="ti" textLength="48.2" lengthAdjust="spacingAndGlyphs">(MHz)</text>
<text x="0" y="0" class="ti" textLength="168.30" lengthAdjust="spacingAndGlyphs" transform="translate(470,235.30) rotate(-90)">Input Return Loss (dB)</text>
<path d="M747.2,211.7H786.7" stroke="#00f800" stroke-width="2"/>
<text x="791.20" y="217.50" class="lg" textLength="15.6" lengthAdjust="spacingAndGlyphs">25</text>
<text x="807.50" y="217.50" class="lg" textLength="4.8" lengthAdjust="spacingAndGlyphs">°</text>
<text x="812.60" y="217.50" class="lg" textLength="9.4" lengthAdjust="spacingAndGlyphs">C</text>
<path d="M747.2,232.9H786.7" stroke="#0000f2" stroke-width="2"/>
<text x="791.20" y="238.70" class="lg" textLength="4.8" lengthAdjust="spacingAndGlyphs" style="stroke:#111;stroke-width:0.35px">-</text>
<text x="797.70" y="238.70" class="lg" textLength="15.6" lengthAdjust="spacingAndGlyphs">55</text>
<text x="814.00" y="238.70" class="lg" textLength="4.8" lengthAdjust="spacingAndGlyphs">°</text>
<text x="819.10" y="238.70" class="lg" textLength="9.4" lengthAdjust="spacingAndGlyphs">C</text>
<path d="M747.2,253.9H786.7" stroke="#f80000" stroke-width="2"/>
<text x="791.20" y="259.70" class="lg" textLength="15.6" lengthAdjust="spacingAndGlyphs">85</text>
<text x="807.50" y="259.70" class="lg" textLength="4.8" lengthAdjust="spacingAndGlyphs">°</text>
<text x="812.60" y="259.70" class="lg" textLength="9.4" lengthAdjust="spacingAndGlyphs">C</text>
<path d="M108.50,350V604.1 M175.50,350V604.1 M243.50,350V604.1 M310.50,350V604.1 M377.50,350V604.1 M75,365.50H411.5 M75,397.50H411.5 M75,428.50H411.5 M75,460.50H411.5 M75,492.50H411.5 M75,524.50H411.5 M75,556.50H411.5 M75,588.50H411.5" stroke="#e2e2e2" stroke-width="1" stroke-dasharray="1 2" fill="none"/>
<path d="M141.90,349.3V604.1 M209.30,349.3V604.1 M276.70,349.3V604.1 M344.10,349.3V604.1 M74.5,381.15H411.5 M74.5,413.00H411.5 M74.5,444.85H411.5 M74.5,476.70H411.5 M74.5,508.55H411.5 M74.5,540.40H411.5 M74.5,572.25H411.5" stroke="#e5e5e5" stroke-width="1" fill="none"/>
<rect x="313.7" y="369.9" width="87.19999999999999" height="62.700000000000045" fill="#fcfcfc"/>
<path d="M74.5,433.29 L75.5,433.42 L76.5,433.55 L77.5,433.68 L78.5,433.80 L79.5,433.93 L80.5,434.06 L81.5,434.19 L82.5,434.33 L83.5,434.46 L84.5,434.60 L85.5,434.74 L86.5,434.88 L87.5,435.03 L88.5,435.17 L89.5,435.32 L90.5,435.48 L91.5,435.64 L92.5,435.80 L93.5,435.96 L94.5,436.13 L95.5,436.31 L96.5,436.49 L97.5,436.67 L98.5,436.86 L99.5,437.06 L100.5,437.26 L101.5,437.47 L102.5,437.68 L103.5,437.91 L104.5,438.13 L105.5,438.37 L106.5,438.61 L107.5,438.86 L108.5,439.12 L109.5,439.38 L110.5,439.64 L111.5,439.91 L112.5,440.18 L113.5,440.46 L114.5,440.74 L115.5,441.03 L116.5,441.32 L117.5,441.60 L118.5,441.89 L119.5,442.18 L120.5,442.47 L121.5,442.76 L122.5,443.05 L123.5,443.33 L124.5,443.61 L125.5,443.88 L126.5,444.15 L127.5,444.41 L128.5,444.66 L129.5,444.92 L130.5,445.17 L131.5,445.42 L132.5,445.68 L133.5,445.94 L134.5,446.20 L135.5,446.48 L136.5,446.76 L137.5,447.06 L138.5,447.37 L139.5,447.70 L140.5,448.04 L141.5,448.40 L142.5,448.78 L143.5,449.17 L144.5,449.58 L145.5,450.01 L146.5,450.46 L147.5,450.92 L148.5,451.40 L149.5,451.89 L150.5,452.40 L151.5,452.92 L152.5,453.45 L153.5,454.01 L154.5,454.57 L155.5,455.15 L156.5,455.74 L157.5,456.34 L158.5,456.96 L159.5,457.59 L160.5,458.23 L161.5,458.88 L162.5,459.54 L163.5,460.21 L164.5,460.90 L165.5,461.59 L166.5,462.29 L167.5,463.00 L168.5,463.72 L169.5,464.44 L170.5,465.17 L171.5,465.91 L172.5,466.66 L173.5,467.41 L174.5,468.16 L175.5,468.92 L176.5,469.69 L177.5,470.45 L178.5,471.23 L179.5,472.00 L180.5,472.78 L181.5,473.55 L182.5,474.33 L183.5,475.12 L184.5,475.90 L185.5,476.68 L186.5,477.47 L187.5,478.26 L188.5,479.05 L189.5,479.84 L190.5,480.63 L191.5,481.42 L192.5,482.22 L193.5,483.01 L194.5,483.81 L195.5,484.61 L196.5,485.41 L197.5,486.21 L198.5,487.01 L199.5,487.81 L200.5,488.61 L201.5,489.41 L202.5,490.21 L203.5,491.01 L204.5,491.81 L205.5,492.61 L206.5,493.41 L207.5,494.21 L208.5,495.00 L209.5,495.80 L210.5,496.59 L211.5,497.38 L212.5,498.16 L213.5,498.94 L214.5,499.72 L215.5,500.49 L216.5,501.26 L217.5,502.03 L218.5,502.79 L219.5,503.54 L220.5,504.29 L221.5,505.04 L222.5,505.77 L223.5,506.50 L224.5,507.22 L225.5,507.93 L226.5,508.62 L227.5,509.31 L228.5,509.98 L229.5,510.64 L230.5,511.28 L231.5,511.91 L232.5,512.52 L233.5,513.12 L234.5,513.69 L235.5,514.24 L236.5,514.78 L237.5,515.29 L238.5,515.78 L239.5,516.25 L240.5,516.69 L241.5,517.11 L242.5,517.50 L243.5,517.87 L244.5,518.21 L245.5,518.52 L246.5,518.82 L247.5,519.08 L248.5,519.33 L249.5,519.54 L250.5,519.73 L251.5,519.90 L252.5,520.04 L253.5,520.16 L254.5,520.25 L255.5,520.32 L256.5,520.36 L257.5,520.38 L258.5,520.37 L259.5,520.34 L260.5,520.28 L261.5,520.20 L262.5,520.11 L263.5,519.99 L264.5,519.85 L265.5,519.69 L266.5,519.52 L267.5,519.32 L268.5,519.11 L269.5,518.88 L270.5,518.64 L271.5,518.38 L272.5,518.10 L273.5,517.81 L274.5,517.51 L275.5,517.19 L276.5,516.86 L277.5,516.52 L278.5,516.17 L279.5,515.80 L280.5,515.43 L281.5,515.04 L282.5,514.65 L283.5,514.25 L284.5,513.83 L285.5,513.41 L286.5,512.98 L287.5,512.54 L288.5,512.09 L289.5,511.63 L290.5,511.16 L291.5,510.69 L292.5,510.20 L293.5,509.70 L294.5,509.20 L295.5,508.69 L296.5,508.17 L297.5,507.64 L298.5,507.10 L299.5,506.56 L300.5,506.00 L301.5,505.44 L302.5,504.87 L303.5,504.30 L304.5,503.72 L305.5,503.13 L306.5,502.54 L307.5,501.95 L308.5,501.35 L309.5,500.76 L310.5,500.16 L311.5,499.55 L312.5,498.95 L313.5,498.35 L314.5,497.76 L315.5,497.16 L316.5,496.56 L317.5,495.97 L318.5,495.39 L319.5,494.80 L320.5,494.23 L321.5,493.66 L322.5,493.09 L323.5,492.54 L324.5,491.98 L325.5,491.44 L326.5,490.90 L327.5,490.37 L328.5,489.85 L329.5,489.33 L330.5,488.82 L331.5,488.32 L332.5,487.82 L333.5,487.34 L334.5,486.86 L335.5,486.39 L336.5,485.93 L337.5,485.48 L338.5,485.04 L339.5,484.60 L340.5,484.18 L341.5,483.76 L342.5,483.36 L343.5,482.96 L344.5,482.58 L345.5,482.21 L346.5,481.85 L347.5,481.50 L348.5,481.17 L349.5,480.86 L350.5,480.55 L351.5,480.27 L352.5,480.00 L353.5,479.74 L354.5,479.51 L355.5,479.29 L356.5,479.09 L357.5,478.90 L358.5,478.74 L359.5,478.60 L360.5,478.48 L361.5,478.38 L362.5,478.30 L363.5,478.24 L364.5,478.19 L365.5,478.17 L366.5,478.16 L367.5,478.17 L368.5,478.20 L369.5,478.25 L370.5,478.30 L371.5,478.38 L372.5,478.46 L373.5,478.56 L374.5,478.68 L375.5,478.82 L376.5,478.98 L377.5,479.16 L378.5,479.37 L379.5,479.60 L380.5,479.86 L381.5,480.16 L382.5,480.49 L383.5,480.85 L384.5,481.25 L385.5,481.67 L386.5,482.12 L387.5,482.60 L388.5,483.11 L389.5,483.64 L390.5,484.18 L391.5,484.75 L392.5,485.33 L393.5,485.93 L394.5,486.54 L395.5,487.16 L396.5,487.78 L397.5,488.41 L398.5,489.03 L399.5,489.65 L400.5,490.26 L401.5,490.86 L402.5,491.45 L403.5,492.02 L404.5,492.58 L405.5,493.12 L406.5,493.66 L407.5,494.19 L408.5,494.71 L409.5,495.22 L410.5,495.74 L411.5,496.25" stroke="#00f800" stroke-width="1.7" fill="none" stroke-linejoin="round"/>
<path d="M74.5,434.59 L75.5,434.65 L76.5,434.71 L77.5,434.77 L78.5,434.84 L79.5,434.90 L80.5,434.96 L81.5,435.03 L82.5,435.10 L83.5,435.17 L84.5,435.25 L85.5,435.33 L86.5,435.41 L87.5,435.49 L88.5,435.58 L89.5,435.67 L90.5,435.76 L91.5,435.86 L92.5,435.96 L93.5,436.06 L94.5,436.17 L95.5,436.27 L96.5,436.39 L97.5,436.50 L98.5,436.61 L99.5,436.73 L100.5,436.85 L101.5,436.97 L102.5,437.09 L103.5,437.20 L104.5,437.32 L105.5,437.44 L106.5,437.56 L107.5,437.67 L108.5,437.80 L109.5,437.92 L110.5,438.05 L111.5,438.18 L112.5,438.32 L113.5,438.46 L114.5,438.61 L115.5,438.77 L116.5,438.94 L117.5,439.11 L118.5,439.29 L119.5,439.47 L120.5,439.66 L121.5,439.86 L122.5,440.06 L123.5,440.26 L124.5,440.47 L125.5,440.69 L126.5,440.90 L127.5,441.12 L128.5,441.35 L129.5,441.58 L130.5,441.81 L131.5,442.05 L132.5,442.29 L133.5,442.54 L134.5,442.79 L135.5,443.05 L136.5,443.32 L137.5,443.59 L138.5,443.87 L139.5,444.15 L140.5,444.45 L141.5,444.75 L142.5,445.05 L143.5,445.37 L144.5,445.70 L145.5,446.03 L146.5,446.37 L147.5,446.72 L148.5,447.08 L149.5,447.45 L150.5,447.84 L151.5,448.23 L152.5,448.63 L153.5,449.04 L154.5,449.47 L155.5,449.90 L156.5,450.35 L157.5,450.81 L158.5,451.29 L159.5,451.77 L160.5,452.27 L161.5,452.79 L162.5,453.31 L163.5,453.85 L164.5,454.40 L165.5,454.96 L166.5,455.53 L167.5,456.11 L168.5,456.71 L169.5,457.31 L170.5,457.92 L171.5,458.54 L172.5,459.17 L173.5,459.80 L174.5,460.45 L175.5,461.10 L176.5,461.76 L177.5,462.42 L178.5,463.09 L179.5,463.76 L180.5,464.44 L181.5,465.13 L182.5,465.81 L183.5,466.51 L184.5,467.20 L185.5,467.90 L186.5,468.59 L187.5,469.29 L188.5,469.99 L189.5,470.69 L190.5,471.39 L191.5,472.09 L192.5,472.79 L193.5,473.49 L194.5,474.18 L195.5,474.87 L196.5,475.55 L197.5,476.23 L198.5,476.90 L199.5,477.56 L200.5,478.21 L201.5,478.85 L202.5,479.48 L203.5,480.12 L204.5,480.76 L205.5,481.42 L206.5,482.09 L207.5,482.78 L208.5,483.49 L209.5,484.22 L210.5,484.95 L211.5,485.69 L212.5,486.44 L213.5,487.19 L214.5,487.94 L215.5,488.68 L216.5,489.42 L217.5,490.15 L218.5,490.87 L219.5,491.57 L220.5,492.26 L221.5,492.92 L222.5,493.57 L223.5,494.19 L224.5,494.80 L225.5,495.38 L226.5,495.95 L227.5,496.50 L228.5,497.02 L229.5,497.53 L230.5,498.02 L231.5,498.48 L232.5,498.93 L233.5,499.35 L234.5,499.75 L235.5,500.14 L236.5,500.50 L237.5,500.84 L238.5,501.16 L239.5,501.46 L240.5,501.73 L241.5,501.99 L242.5,502.22 L243.5,502.44 L244.5,502.63 L245.5,502.80 L246.5,502.95 L247.5,503.07 L248.5,503.18 L249.5,503.26 L250.5,503.33 L251.5,503.37 L252.5,503.38 L253.5,503.38 L254.5,503.36 L255.5,503.31 L256.5,503.25 L257.5,503.17 L258.5,503.07 L259.5,502.95 L260.5,502.82 L261.5,502.67 L262.5,502.51 L263.5,502.33 L264.5,502.14 L265.5,501.94 L266.5,501.73 L267.5,501.51 L268.5,501.29 L269.5,501.05 L270.5,500.81 L271.5,500.57 L272.5,500.32 L273.5,500.07 L274.5,499.81 L275.5,499.56 L276.5,499.31 L277.5,499.05 L278.5,498.81 L279.5,498.56 L280.5,498.32 L281.5,498.09 L282.5,497.86 L283.5,497.63 L284.5,497.41 L285.5,497.19 L286.5,496.98 L287.5,496.77 L288.5,496.57 L289.5,496.37 L290.5,496.17 L291.5,495.97 L292.5,495.78 L293.5,495.59 L294.5,495.40 L295.5,495.21 L296.5,495.03 L297.5,494.84 L298.5,494.66 L299.5,494.48 L300.5,494.30 L301.5,494.12 L302.5,493.94 L303.5,493.76 L304.5,493.58 L305.5,493.40 L306.5,493.22 L307.5,493.05 L308.5,492.87 L309.5,492.70 L310.5,492.53 L311.5,492.36 L312.5,492.19 L313.5,492.03 L314.5,491.86 L315.5,491.70 L316.5,491.55 L317.5,491.39 L318.5,491.24 L319.5,491.09 L320.5,490.94 L321.5,490.80 L322.5,490.66 L323.5,490.52 L324.5,490.38 L325.5,490.24 L326.5,490.11 L327.5,489.98 L328.5,489.85 L329.5,489.71 L330.5,489.58 L331.5,489.45 L332.5,489.32 L333.5,489.19 L334.5,489.05 L335.5,488.91 L336.5,488.78 L337.5,488.64 L338.5,488.49 L339.5,488.35 L340.5,488.20 L341.5,488.05 L342.5,487.90 L343.5,487.74 L344.5,487.58 L345.5,487.42 L346.5,487.27 L347.5,487.11 L348.5,486.95 L349.5,486.79 L350.5,486.64 L351.5,486.48 L352.5,486.33 L353.5,486.18 L354.5,486.04 L355.5,485.90 L356.5,485.76 L357.5,485.63 L358.5,485.51 L359.5,485.39 L360.5,485.28 L361.5,485.17 L362.5,485.07 L363.5,484.98 L364.5,484.89 L365.5,484.80 L366.5,484.72 L367.5,484.64 L368.5,484.57 L369.5,484.50 L370.5,484.42 L371.5,484.35 L372.5,484.28 L373.5,484.21 L374.5,484.15 L375.5,484.09 L376.5,484.04 L377.5,483.99 L378.5,483.96 L379.5,483.94 L380.5,483.94 L381.5,483.96 L382.5,484.00 L383.5,484.05 L384.5,484.13 L385.5,484.23 L386.5,484.35 L387.5,484.49 L388.5,484.65 L389.5,484.83 L390.5,485.03 L391.5,485.25 L392.5,485.48 L393.5,485.73 L394.5,486.00 L395.5,486.28 L396.5,486.56 L397.5,486.86 L398.5,487.16 L399.5,487.46 L400.5,487.76 L401.5,488.06 L402.5,488.35 L403.5,488.64 L404.5,488.93 L405.5,489.21 L406.5,489.48 L407.5,489.75 L408.5,490.02 L409.5,490.29 L410.5,490.55 L411.5,490.82" stroke="#0000f2" stroke-width="1.7" fill="none" stroke-linejoin="round"/>
<path d="M74.5,433.17 L75.5,433.26 L76.5,433.35 L77.5,433.44 L78.5,433.53 L79.5,433.63 L80.5,433.73 L81.5,433.83 L82.5,433.95 L83.5,434.07 L84.5,434.20 L85.5,434.33 L86.5,434.48 L87.5,434.63 L88.5,434.80 L89.5,434.97 L90.5,435.15 L91.5,435.33 L92.5,435.53 L93.5,435.73 L94.5,435.94 L95.5,436.16 L96.5,436.38 L97.5,436.60 L98.5,436.83 L99.5,437.06 L100.5,437.29 L101.5,437.52 L102.5,437.75 L103.5,437.98 L104.5,438.20 L105.5,438.41 L106.5,438.63 L107.5,438.84 L108.5,439.06 L109.5,439.29 L110.5,439.52 L111.5,439.77 L112.5,440.03 L113.5,440.30 L114.5,440.60 L115.5,440.91 L116.5,441.24 L117.5,441.58 L118.5,441.94 L119.5,442.30 L120.5,442.67 L121.5,443.05 L122.5,443.42 L123.5,443.80 L124.5,444.18 L125.5,444.55 L126.5,444.91 L127.5,445.27 L128.5,445.61 L129.5,445.96 L130.5,446.29 L131.5,446.63 L132.5,446.97 L133.5,447.30 L134.5,447.64 L135.5,447.99 L136.5,448.34 L137.5,448.70 L138.5,449.07 L139.5,449.45 L140.5,449.85 L141.5,450.26 L142.5,450.69 L143.5,451.13 L144.5,451.59 L145.5,452.06 L146.5,452.54 L147.5,453.04 L148.5,453.56 L149.5,454.09 L150.5,454.64 L151.5,455.20 L152.5,455.78 L153.5,456.38 L154.5,456.99 L155.5,457.61 L156.5,458.26 L157.5,458.91 L158.5,459.59 L159.5,460.28 L160.5,460.98 L161.5,461.71 L162.5,462.44 L163.5,463.19 L164.5,463.96 L165.5,464.73 L166.5,465.52 L167.5,466.32 L168.5,467.13 L169.5,467.95 L170.5,468.77 L171.5,469.61 L172.5,470.45 L173.5,471.29 L174.5,472.14 L175.5,472.99 L176.5,473.85 L177.5,474.71 L178.5,475.57 L179.5,476.43 L180.5,477.29 L181.5,478.15 L182.5,479.01 L183.5,479.87 L184.5,480.73 L185.5,481.59 L186.5,482.45 L187.5,483.32 L188.5,484.19 L189.5,485.06 L190.5,485.93 L191.5,486.82 L192.5,487.70 L193.5,488.59 L194.5,489.49 L195.5,490.40 L196.5,491.31 L197.5,492.23 L198.5,493.15 L199.5,494.09 L200.5,495.03 L201.5,495.99 L202.5,496.95 L203.5,497.92 L204.5,498.89 L205.5,499.86 L206.5,500.84 L207.5,501.81 L208.5,502.78 L209.5,503.75 L210.5,504.72 L211.5,505.68 L212.5,506.63 L213.5,507.57 L214.5,508.50 L215.5,509.42 L216.5,510.32 L217.5,511.21 L218.5,512.08 L219.5,512.94 L220.5,513.77 L221.5,514.59 L222.5,515.38 L223.5,516.15 L224.5,516.91 L225.5,517.64 L226.5,518.35 L227.5,519.04 L228.5,519.70 L229.5,520.35 L230.5,520.97 L231.5,521.58 L232.5,522.16 L233.5,522.72 L234.5,523.26 L235.5,523.77 L236.5,524.27 L237.5,524.74 L238.5,525.19 L239.5,525.61 L240.5,526.02 L241.5,526.40 L242.5,526.76 L243.5,527.09 L244.5,527.40 L245.5,527.68 L246.5,527.94 L247.5,528.17 L248.5,528.37 L249.5,528.54 L250.5,528.69 L251.5,528.80 L252.5,528.89 L253.5,528.94 L254.5,528.96 L255.5,528.95 L256.5,528.91 L257.5,528.83 L258.5,528.73 L259.5,528.59 L260.5,528.42 L261.5,528.23 L262.5,528.00 L263.5,527.75 L264.5,527.47 L265.5,527.16 L266.5,526.82 L267.5,526.45 L268.5,526.06 L269.5,525.64 L270.5,525.19 L271.5,524.71 L272.5,524.21 L273.5,523.69 L274.5,523.14 L275.5,522.56 L276.5,521.96 L277.5,521.33 L278.5,520.68 L279.5,520.00 L280.5,519.30 L281.5,518.58 L282.5,517.83 L283.5,517.07 L284.5,516.29 L285.5,515.50 L286.5,514.69 L287.5,513.87 L288.5,513.04 L289.5,512.20 L290.5,511.35 L291.5,510.50 L292.5,509.65 L293.5,508.80 L294.5,507.94 L295.5,507.10 L296.5,506.25 L297.5,505.41 L298.5,504.58 L299.5,503.77 L300.5,502.96 L301.5,502.17 L302.5,501.39 L303.5,500.62 L304.5,499.86 L305.5,499.12 L306.5,498.39 L307.5,497.67 L308.5,496.96 L309.5,496.26 L310.5,495.58 L311.5,494.90 L312.5,494.24 L313.5,493.59 L314.5,492.94 L315.5,492.31 L316.5,491.69 L317.5,491.08 L318.5,490.47 L319.5,489.88 L320.5,489.30 L321.5,488.72 L322.5,488.16 L323.5,487.60 L324.5,487.06 L325.5,486.52 L326.5,486.00 L327.5,485.48 L328.5,484.98 L329.5,484.49 L330.5,484.00 L331.5,483.53 L332.5,483.07 L333.5,482.62 L334.5,482.18 L335.5,481.76 L336.5,481.34 L337.5,480.94 L338.5,480.55 L339.5,480.18 L340.5,479.81 L341.5,479.46 L342.5,479.12 L343.5,478.80 L344.5,478.49 L345.5,478.19 L346.5,477.91 L347.5,477.65 L348.5,477.40 L349.5,477.17 L350.5,476.95 L351.5,476.75 L352.5,476.57 L353.5,476.41 L354.5,476.27 L355.5,476.14 L356.5,476.04 L357.5,475.96 L358.5,475.89 L359.5,475.85 L360.5,475.83 L361.5,475.83 L362.5,475.85 L363.5,475.89 L364.5,475.95 L365.5,476.03 L366.5,476.12 L367.5,476.23 L368.5,476.36 L369.5,476.50 L370.5,476.66 L371.5,476.83 L372.5,477.02 L373.5,477.21 L374.5,477.43 L375.5,477.66 L376.5,477.91 L377.5,478.18 L378.5,478.47 L379.5,478.79 L380.5,479.13 L381.5,479.50 L382.5,479.91 L383.5,480.34 L384.5,480.80 L385.5,481.29 L386.5,481.81 L387.5,482.35 L388.5,482.91 L389.5,483.50 L390.5,484.10 L391.5,484.72 L392.5,485.36 L393.5,486.02 L394.5,486.69 L395.5,487.36 L396.5,488.04 L397.5,488.73 L398.5,489.41 L399.5,490.10 L400.5,490.77 L401.5,491.44 L402.5,492.10 L403.5,492.75 L404.5,493.38 L405.5,494.01 L406.5,494.62 L407.5,495.24 L408.5,495.84 L409.5,496.44 L410.5,497.04 L411.5,497.64" stroke="#f80000" stroke-width="1.7" fill="none" stroke-linejoin="round"/>
<path d="M74.50,604.1V599.6 M108.20,604.1V601.6 M141.90,604.1V599.6 M175.60,604.1V601.6 M209.30,604.1V599.6 M243.00,604.1V601.6 M276.70,604.1V599.6 M310.40,604.1V601.6 M344.10,604.1V599.6 M377.80,604.1V601.6 M411.50,604.1V599.6 M74.5,349.30H79.0 M74.5,365.23H77.0 M74.5,381.15H79.0 M74.5,397.08H77.0 M74.5,413.00H79.0 M74.5,428.93H77.0 M74.5,444.85H79.0 M74.5,460.78H77.0 M74.5,476.70H79.0 M74.5,492.62H77.0 M74.5,508.55H79.0 M74.5,524.48H77.0 M74.5,540.40H79.0 M74.5,556.33H77.0 M74.5,572.25H79.0 M74.5,588.17H77.0 M74.5,604.10H79.0" stroke="#111" stroke-width="1.2" fill="none"/>
<path d="M74.5,349.60H411.5V604.1" stroke="#2a2a2a" stroke-width="1.2" fill="none"/>
<path d="M74.5,349.3V604.1H411.5" stroke="#111" stroke-width="1.2" fill="none"/>
<text x="74.50" y="619.30" class="tk" text-anchor="middle">3500</text>
<text x="141.90" y="619.30" class="tk" text-anchor="middle">4000</text>
<text x="209.30" y="619.30" class="tk" text-anchor="middle">4500</text>
<text x="276.70" y="619.30" class="tk" text-anchor="middle">5000</text>
<text x="344.10" y="619.30" class="tk" text-anchor="middle">5500</text>
<text x="411.50" y="619.30" class="tk" text-anchor="middle">6000</text>
<text x="69.00" y="353.70" class="tk" text-anchor="end">0</text>
<text x="69.00" y="385.55" class="tk" text-anchor="end">-5</text>
<text x="69.00" y="417.40" class="tk" text-anchor="end">-10</text>
<text x="69.00" y="449.25" class="tk" text-anchor="end">-15</text>
<text x="69.00" y="481.10" class="tk" text-anchor="end">-20</text>
<text x="69.00" y="512.95" class="tk" text-anchor="end">-25</text>
<text x="69.00" y="544.80" class="tk" text-anchor="end">-30</text>
<text x="69.00" y="576.65" class="tk" text-anchor="end">-35</text>
<text x="69.00" y="608.50" class="tk" text-anchor="end">-40</text>
<text x="176.80" y="636.1" class="ti" textLength="78.6" lengthAdjust="spacingAndGlyphs">Frequency</text>
<text x="265.80" y="636.1" class="ti" textLength="48.2" lengthAdjust="spacingAndGlyphs">(MHz)</text>
<text x="0" y="0" class="ti" textLength="183.80" lengthAdjust="spacingAndGlyphs" transform="translate(43.6,577.80) rotate(-90)">Output Return Loss (dB)</text>
<path d="M315,379.9H354.8" stroke="#00f800" stroke-width="2"/>
<text x="359.20" y="385.70" class="lg" textLength="15.6" lengthAdjust="spacingAndGlyphs">25</text>
<text x="375.50" y="385.70" class="lg" textLength="4.8" lengthAdjust="spacingAndGlyphs">°</text>
<text x="380.60" y="385.70" class="lg" textLength="9.4" lengthAdjust="spacingAndGlyphs">C</text>
<path d="M315,401H354.8" stroke="#0000f2" stroke-width="2"/>
<text x="359.20" y="406.80" class="lg" textLength="4.8" lengthAdjust="spacingAndGlyphs" style="stroke:#111;stroke-width:0.35px">-</text>
<text x="365.70" y="406.80" class="lg" textLength="15.6" lengthAdjust="spacingAndGlyphs">55</text>
<text x="382.00" y="406.80" class="lg" textLength="4.8" lengthAdjust="spacingAndGlyphs">°</text>
<text x="387.10" y="406.80" class="lg" textLength="9.4" lengthAdjust="spacingAndGlyphs">C</text>
<path d="M315,421.9H354.8" stroke="#f80000" stroke-width="2"/>
<text x="359.20" y="427.70" class="lg" textLength="15.6" lengthAdjust="spacingAndGlyphs">85</text>
<text x="375.50" y="427.70" class="lg" textLength="4.8" lengthAdjust="spacingAndGlyphs">°</text>
<text x="380.60" y="427.70" class="lg" textLength="9.4" lengthAdjust="spacingAndGlyphs">C</text>
<path d="M532.50,350V603.9 M599.50,350V603.9 M667.50,350V603.9 M734.50,350V603.9 M801.50,350V603.9 M499,374.50H835.5 M499,425.50H835.5 M499,476.50H835.5 M499,527.50H835.5 M499,578.50H835.5" stroke="#e2e2e2" stroke-width="1" stroke-dasharray="1 2" fill="none"/>
<path d="M565.90,349.3V603.9 M633.30,349.3V603.9 M700.70,349.3V603.9 M768.10,349.3V603.9 M498.5,400.22H835.5 M498.5,451.14H835.5 M498.5,502.06H835.5 M498.5,552.98H835.5" stroke="#e5e5e5" stroke-width="1" fill="none"/>
<rect x="727" y="520.5" width="88" height="64.70000000000005" fill="#fcfcfc"/>
<path d="M498.5,472.96 L499.5,472.27 L500.5,471.58 L501.5,470.90 L502.5,470.22 L503.5,469.55 L504.5,468.87 L505.5,468.18 L506.5,467.48 L507.5,466.75 L508.5,466.00 L509.5,465.22 L510.5,464.39 L511.5,463.53 L512.5,462.65 L513.5,461.76 L514.5,460.87 L515.5,460.01 L516.5,459.17 L517.5,458.36 L518.5,457.58 L519.5,456.83 L520.5,456.11 L521.5,455.42 L522.5,454.76 L523.5,454.13 L524.5,453.52 L525.5,452.93 L526.5,452.34 L527.5,451.75 L528.5,451.15 L529.5,450.53 L530.5,449.90 L531.5,449.24 L532.5,448.57 L533.5,447.88 L534.5,447.20 L535.5,446.52 L536.5,445.85 L537.5,445.19 L538.5,444.56 L539.5,443.94 L540.5,443.34 L541.5,442.77 L542.5,442.22 L543.5,441.70 L544.5,441.20 L545.5,440.72 L546.5,440.26 L547.5,439.81 L548.5,439.36 L549.5,438.91 L550.5,438.46 L551.5,438.01 L552.5,437.55 L553.5,437.09 L554.5,436.64 L555.5,436.19 L556.5,435.74 L557.5,435.29 L558.5,434.85 L559.5,434.43 L560.5,434.01 L561.5,433.60 L562.5,433.21 L563.5,432.83 L564.5,432.46 L565.5,432.10 L566.5,431.74 L567.5,431.39 L568.5,431.04 L569.5,430.69 L570.5,430.33 L571.5,429.97 L572.5,429.61 L573.5,429.27 L574.5,428.94 L575.5,428.64 L576.5,428.36 L577.5,428.12 L578.5,427.90 L579.5,427.70 L580.5,427.51 L581.5,427.32 L582.5,427.14 L583.5,426.95 L584.5,426.75 L585.5,426.53 L586.5,426.29 L587.5,426.04 L588.5,425.77 L589.5,425.49 L590.5,425.20 L591.5,424.90 L592.5,424.60 L593.5,424.28 L594.5,423.96 L595.5,423.63 L596.5,423.28 L597.5,422.94 L598.5,422.58 L599.5,422.21 L600.5,421.84 L601.5,421.45 L602.5,421.06 L603.5,420.67 L604.5,420.27 L605.5,419.88 L606.5,419.49 L607.5,419.11 L608.5,418.75 L609.5,418.40 L610.5,418.07 L611.5,417.76 L612.5,417.48 L613.5,417.23 L614.5,417.01 L615.5,416.81 L616.5,416.65 L617.5,416.51 L618.5,416.40 L619.5,416.32 L620.5,416.26 L621.5,416.23 L622.5,416.23 L623.5,416.24 L624.5,416.29 L625.5,416.35 L626.5,416.44 L627.5,416.53 L628.5,416.64 L629.5,416.76 L630.5,416.89 L631.5,417.01 L632.5,417.15 L633.5,417.28 L634.5,417.43 L635.5,417.58 L636.5,417.73 L637.5,417.88 L638.5,418.02 L639.5,418.16 L640.5,418.27 L641.5,418.37 L642.5,418.43 L643.5,418.47 L644.5,418.46 L645.5,418.42 L646.5,418.32 L647.5,418.17 L648.5,417.97 L649.5,417.73 L650.5,417.44 L651.5,417.11 L652.5,416.74 L653.5,416.34 L654.5,415.91 L655.5,415.45 L656.5,414.97 L657.5,414.47 L658.5,413.95 L659.5,413.41 L660.5,412.86 L661.5,412.30 L662.5,411.74 L663.5,411.16 L664.5,410.59 L665.5,410.01 L666.5,409.42 L667.5,408.84 L668.5,408.25 L669.5,407.67 L670.5,407.09 L671.5,406.51 L672.5,405.93 L673.5,405.36 L674.5,404.80 L675.5,404.23 L676.5,403.68 L677.5,403.13 L678.5,402.59 L679.5,402.05 L680.5,401.52 L681.5,401.01 L682.5,400.50 L683.5,400.00 L684.5,399.51 L685.5,399.04 L686.5,398.58 L687.5,398.14 L688.5,397.71 L689.5,397.30 L690.5,396.91 L691.5,396.55 L692.5,396.20 L693.5,395.87 L694.5,395.57 L695.5,395.29 L696.5,395.04 L697.5,394.81 L698.5,394.60 L699.5,394.43 L700.5,394.28 L701.5,394.16 L702.5,394.06 L703.5,393.99 L704.5,393.94 L705.5,393.92 L706.5,393.91 L707.5,393.92 L708.5,393.94 L709.5,393.98 L710.5,394.04 L711.5,394.09 L712.5,394.16 L713.5,394.23 L714.5,394.30 L715.5,394.37 L716.5,394.43 L717.5,394.49 L718.5,394.54 L719.5,394.58 L720.5,394.61 L721.5,394.62 L722.5,394.62 L723.5,394.60 L724.5,394.58 L725.5,394.54 L726.5,394.48 L727.5,394.41 L728.5,394.33 L729.5,394.23 L730.5,394.12 L731.5,393.99 L732.5,393.85 L733.5,393.70 L734.5,393.54 L735.5,393.37 L736.5,393.19 L737.5,393.01 L738.5,392.82 L739.5,392.63 L740.5,392.44 L741.5,392.25 L742.5,392.07 L743.5,391.88 L744.5,391.71 L745.5,391.55 L746.5,391.40 L747.5,391.28 L748.5,391.17 L749.5,391.08 L750.5,391.02 L751.5,390.99 L752.5,391.00 L753.5,391.03 L754.5,391.11 L755.5,391.21 L756.5,391.34 L757.5,391.51 L758.5,391.70 L759.5,391.91 L760.5,392.15 L761.5,392.40 L762.5,392.68 L763.5,392.97 L764.5,393.28 L765.5,393.60 L766.5,393.94 L767.5,394.28 L768.5,394.63 L769.5,394.99 L770.5,395.35 L771.5,395.71 L772.5,396.08 L773.5,396.45 L774.5,396.81 L775.5,397.18 L776.5,397.53 L777.5,397.88 L778.5,398.23 L779.5,398.56 L780.5,398.88 L781.5,399.19 L782.5,399.49 L783.5,399.77 L784.5,400.03 L785.5,400.28 L786.5,400.51 L787.5,400.72 L788.5,400.92 L789.5,401.11 L790.5,401.31 L791.5,401.50 L792.5,401.71 L793.5,401.92 L794.5,402.15 L795.5,402.40 L796.5,402.68 L797.5,402.99 L798.5,403.33 L799.5,403.71 L800.5,404.13 L801.5,404.60 L802.5,405.11 L803.5,405.67 L804.5,406.26 L805.5,406.90 L806.5,407.57 L807.5,408.28 L808.5,409.02 L809.5,409.80 L810.5,410.62 L811.5,411.46 L812.5,412.33 L813.5,413.24 L814.5,414.16 L815.5,415.12 L816.5,416.10 L817.5,417.10 L818.5,418.13 L819.5,419.17 L820.5,420.23 L821.5,421.32 L822.5,422.42 L823.5,423.56 L824.5,424.72 L825.5,425.92 L826.5,427.16 L827.5,428.44 L828.5,429.76 L829.5,431.13 L830.5,432.52 L831.5,433.94 L832.5,435.38 L833.5,436.84 L834.5,438.31 L835.5,439.79" stroke="#00f800" stroke-width="1.7" fill="none" stroke-linejoin="round"/>
<path d="M498.5,471.87 L499.5,472.64 L500.5,473.40 L501.5,474.13 L502.5,474.82 L503.5,475.47 L504.5,476.08 L505.5,476.66 L506.5,477.21 L507.5,477.73 L508.5,478.23 L509.5,478.71 L510.5,479.16 L511.5,479.60 L512.5,480.01 L513.5,480.38 L514.5,480.71 L515.5,480.98 L516.5,481.19 L517.5,481.33 L518.5,481.40 L519.5,481.40 L520.5,481.32 L521.5,481.16 L522.5,480.91 L523.5,480.59 L524.5,480.19 L525.5,479.72 L526.5,479.19 L527.5,478.61 L528.5,477.98 L529.5,477.32 L530.5,476.63 L531.5,475.91 L532.5,475.17 L533.5,474.39 L534.5,473.59 L535.5,472.75 L536.5,471.88 L537.5,470.99 L538.5,470.08 L539.5,469.15 L540.5,468.22 L541.5,467.29 L542.5,466.37 L543.5,465.46 L544.5,464.56 L545.5,463.65 L546.5,462.74 L547.5,461.82 L548.5,460.88 L549.5,459.92 L550.5,458.93 L551.5,457.92 L552.5,456.88 L553.5,455.82 L554.5,454.74 L555.5,453.65 L556.5,452.55 L557.5,451.43 L558.5,450.32 L559.5,449.19 L560.5,448.07 L561.5,446.96 L562.5,445.85 L563.5,444.75 L564.5,443.67 L565.5,442.60 L566.5,441.55 L567.5,440.53 L568.5,439.53 L569.5,438.56 L570.5,437.63 L571.5,436.72 L572.5,435.85 L573.5,435.02 L574.5,434.21 L575.5,433.43 L576.5,432.67 L577.5,431.94 L578.5,431.24 L579.5,430.56 L580.5,429.90 L581.5,429.26 L582.5,428.65 L583.5,428.05 L584.5,427.46 L585.5,426.89 L586.5,426.34 L587.5,425.81 L588.5,425.31 L589.5,424.84 L590.5,424.41 L591.5,424.01 L592.5,423.65 L593.5,423.33 L594.5,423.05 L595.5,422.80 L596.5,422.58 L597.5,422.39 L598.5,422.24 L599.5,422.11 L600.5,422.02 L601.5,421.95 L602.5,421.91 L603.5,421.89 L604.5,421.89 L605.5,421.90 L606.5,421.93 L607.5,421.95 L608.5,421.98 L609.5,422.01 L610.5,422.03 L611.5,422.04 L612.5,422.03 L613.5,422.00 L614.5,421.96 L615.5,421.89 L616.5,421.80 L617.5,421.69 L618.5,421.55 L619.5,421.39 L620.5,421.21 L621.5,421.00 L622.5,420.77 L623.5,420.50 L624.5,420.21 L625.5,419.90 L626.5,419.56 L627.5,419.20 L628.5,418.83 L629.5,418.44 L630.5,418.05 L631.5,417.65 L632.5,417.26 L633.5,416.87 L634.5,416.50 L635.5,416.14 L636.5,415.81 L637.5,415.51 L638.5,415.23 L639.5,414.99 L640.5,414.78 L641.5,414.60 L642.5,414.46 L643.5,414.36 L644.5,414.29 L645.5,414.27 L646.5,414.30 L647.5,414.37 L648.5,414.48 L649.5,414.63 L650.5,414.82 L651.5,415.05 L652.5,415.31 L653.5,415.59 L654.5,415.91 L655.5,416.24 L656.5,416.60 L657.5,416.98 L658.5,417.37 L659.5,417.78 L660.5,418.20 L661.5,418.62 L662.5,419.05 L663.5,419.49 L664.5,419.93 L665.5,420.36 L666.5,420.79 L667.5,421.22 L668.5,421.64 L669.5,422.05 L670.5,422.45 L671.5,422.84 L672.5,423.20 L673.5,423.55 L674.5,423.88 L675.5,424.18 L676.5,424.46 L677.5,424.71 L678.5,424.92 L679.5,425.10 L680.5,425.24 L681.5,425.35 L682.5,425.42 L683.5,425.47 L684.5,425.49 L685.5,425.48 L686.5,425.46 L687.5,425.43 L688.5,425.38 L689.5,425.33 L690.5,425.28 L691.5,425.22 L692.5,425.16 L693.5,425.09 L694.5,425.01 L695.5,424.93 L696.5,424.84 L697.5,424.74 L698.5,424.62 L699.5,424.49 L700.5,424.34 L701.5,424.18 L702.5,424.00 L703.5,423.82 L704.5,423.63 L705.5,423.43 L706.5,423.23 L707.5,423.03 L708.5,422.84 L709.5,422.65 L710.5,422.46 L711.5,422.28 L712.5,422.11 L713.5,421.95 L714.5,421.80 L715.5,421.66 L716.5,421.53 L717.5,421.41 L718.5,421.31 L719.5,421.22 L720.5,421.15 L721.5,421.10 L722.5,421.07 L723.5,421.07 L724.5,421.08 L725.5,421.13 L726.5,421.21 L727.5,421.32 L728.5,421.46 L729.5,421.64 L730.5,421.85 L731.5,422.10 L732.5,422.39 L733.5,422.70 L734.5,423.02 L735.5,423.36 L736.5,423.71 L737.5,424.06 L738.5,424.40 L739.5,424.73 L740.5,425.05 L741.5,425.34 L742.5,425.61 L743.5,425.85 L744.5,426.09 L745.5,426.33 L746.5,426.57 L747.5,426.83 L748.5,427.11 L749.5,427.42 L750.5,427.77 L751.5,428.17 L752.5,428.60 L753.5,429.06 L754.5,429.54 L755.5,430.05 L756.5,430.56 L757.5,431.08 L758.5,431.60 L759.5,432.11 L760.5,432.61 L761.5,433.09 L762.5,433.55 L763.5,433.97 L764.5,434.36 L765.5,434.71 L766.5,435.03 L767.5,435.31 L768.5,435.56 L769.5,435.79 L770.5,435.98 L771.5,436.16 L772.5,436.31 L773.5,436.44 L774.5,436.55 L775.5,436.65 L776.5,436.73 L777.5,436.79 L778.5,436.83 L779.5,436.85 L780.5,436.84 L781.5,436.79 L782.5,436.72 L783.5,436.63 L784.5,436.52 L785.5,436.40 L786.5,436.27 L787.5,436.13 L788.5,435.99 L789.5,435.86 L790.5,435.73 L791.5,435.61 L792.5,435.51 L793.5,435.44 L794.5,435.39 L795.5,435.38 L796.5,435.44 L797.5,435.57 L798.5,435.80 L799.5,436.14 L800.5,436.60 L801.5,437.19 L802.5,437.91 L803.5,438.77 L804.5,439.75 L805.5,440.86 L806.5,442.09 L807.5,443.45 L808.5,444.93 L809.5,446.53 L810.5,448.25 L811.5,450.08 L812.5,452.03 L813.5,454.09 L814.5,456.25 L815.5,458.51 L816.5,460.88 L817.5,463.33 L818.5,465.87 L819.5,468.48 L820.5,471.17 L821.5,473.92 L822.5,476.73 L823.5,479.59 L824.5,482.49 L825.5,485.41 L826.5,488.37 L827.5,491.33 L828.5,494.32 L829.5,497.33 L830.5,500.39 L831.5,503.52 L832.5,506.71 L833.5,509.99 L834.5,513.35 L835.5,516.74" stroke="#0000f2" stroke-width="1.7" fill="none" stroke-linejoin="round"/>
<path d="M498.5,474.41 L499.5,474.23 L500.5,474.04 L501.5,473.85 L502.5,473.64 L503.5,473.41 L504.5,473.16 L505.5,472.90 L506.5,472.61 L507.5,472.31 L508.5,471.98 L509.5,471.64 L510.5,471.27 L511.5,470.89 L512.5,470.48 L513.5,470.06 L514.5,469.62 L515.5,469.16 L516.5,468.69 L517.5,468.20 L518.5,467.69 L519.5,467.15 L520.5,466.58 L521.5,465.98 L522.5,465.35 L523.5,464.68 L524.5,463.97 L525.5,463.25 L526.5,462.50 L527.5,461.74 L528.5,460.97 L529.5,460.19 L530.5,459.41 L531.5,458.64 L532.5,457.86 L533.5,457.09 L534.5,456.32 L535.5,455.54 L536.5,454.77 L537.5,453.99 L538.5,453.19 L539.5,452.38 L540.5,451.54 L541.5,450.67 L542.5,449.76 L543.5,448.81 L544.5,447.83 L545.5,446.83 L546.5,445.81 L547.5,444.78 L548.5,443.75 L549.5,442.72 L550.5,441.71 L551.5,440.72 L552.5,439.74 L553.5,438.79 L554.5,437.85 L555.5,436.95 L556.5,436.07 L557.5,435.22 L558.5,434.40 L559.5,433.62 L560.5,432.88 L561.5,432.18 L562.5,431.54 L563.5,430.94 L564.5,430.39 L565.5,429.88 L566.5,429.41 L567.5,428.97 L568.5,428.57 L569.5,428.18 L570.5,427.82 L571.5,427.48 L572.5,427.15 L573.5,426.85 L574.5,426.56 L575.5,426.30 L576.5,426.06 L577.5,425.84 L578.5,425.64 L579.5,425.46 L580.5,425.31 L581.5,425.17 L582.5,425.05 L583.5,424.95 L584.5,424.87 L585.5,424.80 L586.5,424.76 L587.5,424.72 L588.5,424.70 L589.5,424.69 L590.5,424.68 L591.5,424.68 L592.5,424.68 L593.5,424.69 L594.5,424.69 L595.5,424.70 L596.5,424.70 L597.5,424.70 L598.5,424.70 L599.5,424.69 L600.5,424.67 L601.5,424.64 L602.5,424.60 L603.5,424.56 L604.5,424.50 L605.5,424.44 L606.5,424.37 L607.5,424.30 L608.5,424.23 L609.5,424.15 L610.5,424.08 L611.5,424.00 L612.5,423.93 L613.5,423.86 L614.5,423.79 L615.5,423.72 L616.5,423.66 L617.5,423.60 L618.5,423.54 L619.5,423.48 L620.5,423.43 L621.5,423.37 L622.5,423.32 L623.5,423.26 L624.5,423.21 L625.5,423.16 L626.5,423.10 L627.5,423.03 L628.5,422.96 L629.5,422.87 L630.5,422.77 L631.5,422.65 L632.5,422.52 L633.5,422.38 L634.5,422.22 L635.5,422.06 L636.5,421.88 L637.5,421.70 L638.5,421.50 L639.5,421.30 L640.5,421.09 L641.5,420.86 L642.5,420.63 L643.5,420.39 L644.5,420.15 L645.5,419.89 L646.5,419.62 L647.5,419.35 L648.5,419.07 L649.5,418.77 L650.5,418.45 L651.5,418.12 L652.5,417.77 L653.5,417.39 L654.5,416.98 L655.5,416.55 L656.5,416.09 L657.5,415.60 L658.5,415.07 L659.5,414.50 L660.5,413.89 L661.5,413.24 L662.5,412.57 L663.5,411.87 L664.5,411.15 L665.5,410.43 L666.5,409.71 L667.5,409.00 L668.5,408.30 L669.5,407.62 L670.5,406.97 L671.5,406.34 L672.5,405.73 L673.5,405.13 L674.5,404.54 L675.5,403.95 L676.5,403.37 L677.5,402.78 L678.5,402.20 L679.5,401.60 L680.5,400.99 L681.5,400.37 L682.5,399.74 L683.5,399.10 L684.5,398.44 L685.5,397.79 L686.5,397.12 L687.5,396.46 L688.5,395.79 L689.5,395.12 L690.5,394.45 L691.5,393.78 L692.5,393.12 L693.5,392.47 L694.5,391.82 L695.5,391.19 L696.5,390.58 L697.5,389.97 L698.5,389.39 L699.5,388.83 L700.5,388.30 L701.5,387.78 L702.5,387.30 L703.5,386.83 L704.5,386.39 L705.5,385.97 L706.5,385.57 L707.5,385.19 L708.5,384.82 L709.5,384.48 L710.5,384.16 L711.5,383.85 L712.5,383.57 L713.5,383.30 L714.5,383.06 L715.5,382.83 L716.5,382.62 L717.5,382.43 L718.5,382.26 L719.5,382.11 L720.5,381.98 L721.5,381.86 L722.5,381.76 L723.5,381.68 L724.5,381.61 L725.5,381.56 L726.5,381.53 L727.5,381.50 L728.5,381.49 L729.5,381.49 L730.5,381.51 L731.5,381.53 L732.5,381.56 L733.5,381.61 L734.5,381.66 L735.5,381.72 L736.5,381.79 L737.5,381.86 L738.5,381.94 L739.5,382.03 L740.5,382.12 L741.5,382.22 L742.5,382.31 L743.5,382.41 L744.5,382.52 L745.5,382.62 L746.5,382.72 L747.5,382.82 L748.5,382.91 L749.5,383.01 L750.5,383.09 L751.5,383.17 L752.5,383.25 L753.5,383.32 L754.5,383.38 L755.5,383.43 L756.5,383.48 L757.5,383.52 L758.5,383.57 L759.5,383.61 L760.5,383.65 L761.5,383.69 L762.5,383.74 L763.5,383.79 L764.5,383.84 L765.5,383.90 L766.5,383.97 L767.5,384.04 L768.5,384.12 L769.5,384.21 L770.5,384.30 L771.5,384.41 L772.5,384.53 L773.5,384.66 L774.5,384.80 L775.5,384.95 L776.5,385.12 L777.5,385.30 L778.5,385.49 L779.5,385.70 L780.5,385.93 L781.5,386.17 L782.5,386.43 L783.5,386.71 L784.5,387.00 L785.5,387.31 L786.5,387.64 L787.5,387.99 L788.5,388.36 L789.5,388.74 L790.5,389.15 L791.5,389.57 L792.5,390.02 L793.5,390.48 L794.5,390.96 L795.5,391.45 L796.5,391.97 L797.5,392.51 L798.5,393.06 L799.5,393.63 L800.5,394.22 L801.5,394.83 L802.5,395.44 L803.5,396.06 L804.5,396.67 L805.5,397.28 L806.5,397.87 L807.5,398.43 L808.5,398.98 L809.5,399.52 L810.5,400.04 L811.5,400.55 L812.5,401.06 L813.5,401.57 L814.5,402.08 L815.5,402.59 L816.5,403.12 L817.5,403.65 L818.5,404.20 L819.5,404.77 L820.5,405.36 L821.5,405.97 L822.5,406.59 L823.5,407.23 L824.5,407.88 L825.5,408.52 L826.5,409.17 L827.5,409.81 L828.5,410.43 L829.5,411.05 L830.5,411.66 L831.5,412.26 L832.5,412.86 L833.5,413.45 L834.5,414.04 L835.5,414.63" stroke="#f80000" stroke-width="1.7" fill="none" stroke-linejoin="round"/>
<path d="M498.50,603.9V599.4 M532.20,603.9V601.4 M565.90,603.9V599.4 M599.60,603.9V601.4 M633.30,603.9V599.4 M667.00,603.9V601.4 M700.70,603.9V599.4 M734.40,603.9V601.4 M768.10,603.9V599.4 M801.80,603.9V601.4 M835.50,603.9V599.4 M498.5,349.30H503.0 M498.5,374.76H501.0 M498.5,400.22H503.0 M498.5,425.68H501.0 M498.5,451.14H503.0 M498.5,476.60H501.0 M498.5,502.06H503.0 M498.5,527.52H501.0 M498.5,552.98H503.0 M498.5,578.44H501.0 M498.5,603.90H503.0" stroke="#111" stroke-width="1.2" fill="none"/>
<path d="M498.5,349.60H835.5V603.9" stroke="#2a2a2a" stroke-width="1.2" fill="none"/>
<path d="M498.5,349.3V603.9H835.5" stroke="#111" stroke-width="1.2" fill="none"/>
<text x="498.50" y="619.10" class="tk" text-anchor="middle">3500</text>
<text x="565.90" y="619.10" class="tk" text-anchor="middle">4000</text>
<text x="633.30" y="619.10" class="tk" text-anchor="middle">4500</text>
<text x="700.70" y="619.10" class="tk" text-anchor="middle">5000</text>
<text x="768.10" y="619.10" class="tk" text-anchor="middle">5500</text>
<text x="835.50" y="619.10" class="tk" text-anchor="middle">6000</text>
<text x="493.00" y="353.70" class="tk" text-anchor="end">-45</text>
<text x="493.00" y="404.62" class="tk" text-anchor="end">-50</text>
<text x="493.00" y="455.54" class="tk" text-anchor="end">-55</text>
<text x="493.00" y="506.46" class="tk" text-anchor="end">-60</text>
<text x="493.00" y="557.38" class="tk" text-anchor="end">-65</text>
<text x="493.00" y="608.30" class="tk" text-anchor="end">-70</text>
<text x="600.70" y="636.1" class="ti" textLength="78.6" lengthAdjust="spacingAndGlyphs">Frequency</text>
<text x="689.70" y="636.1" class="ti" textLength="48.2" lengthAdjust="spacingAndGlyphs">(MHz)</text>
<text x="0" y="0" class="ti" textLength="164.00" lengthAdjust="spacingAndGlyphs" transform="translate(468.1,566.90) rotate(-90)">Reverse Isolation (dB)</text>
<path d="M728.9,531.9H768.3" stroke="#00f800" stroke-width="2"/>
<text x="772.80" y="537.70" class="lg" textLength="15.6" lengthAdjust="spacingAndGlyphs">25</text>
<text x="789.10" y="537.70" class="lg" textLength="4.8" lengthAdjust="spacingAndGlyphs">°</text>
<text x="794.20" y="537.70" class="lg" textLength="9.4" lengthAdjust="spacingAndGlyphs">C</text>
<path d="M728.9,552.9H768.3" stroke="#0000f2" stroke-width="2"/>
<text x="772.80" y="558.70" class="lg" textLength="4.8" lengthAdjust="spacingAndGlyphs" style="stroke:#111;stroke-width:0.35px">-</text>
<text x="779.30" y="558.70" class="lg" textLength="15.6" lengthAdjust="spacingAndGlyphs">55</text>
<text x="795.60" y="558.70" class="lg" textLength="4.8" lengthAdjust="spacingAndGlyphs">°</text>
<text x="800.70" y="558.70" class="lg" textLength="9.4" lengthAdjust="spacingAndGlyphs">C</text>
<path d="M728.9,573.9H768.3" stroke="#f80000" stroke-width="2"/>
<text x="772.80" y="579.70" class="lg" textLength="15.6" lengthAdjust="spacingAndGlyphs">85</text>
<text x="789.10" y="579.70" class="lg" textLength="4.8" lengthAdjust="spacingAndGlyphs">°</text>
<text x="794.20" y="579.70" class="lg" textLength="9.4" lengthAdjust="spacingAndGlyphs">C</text>
</svg>
</body></html>
